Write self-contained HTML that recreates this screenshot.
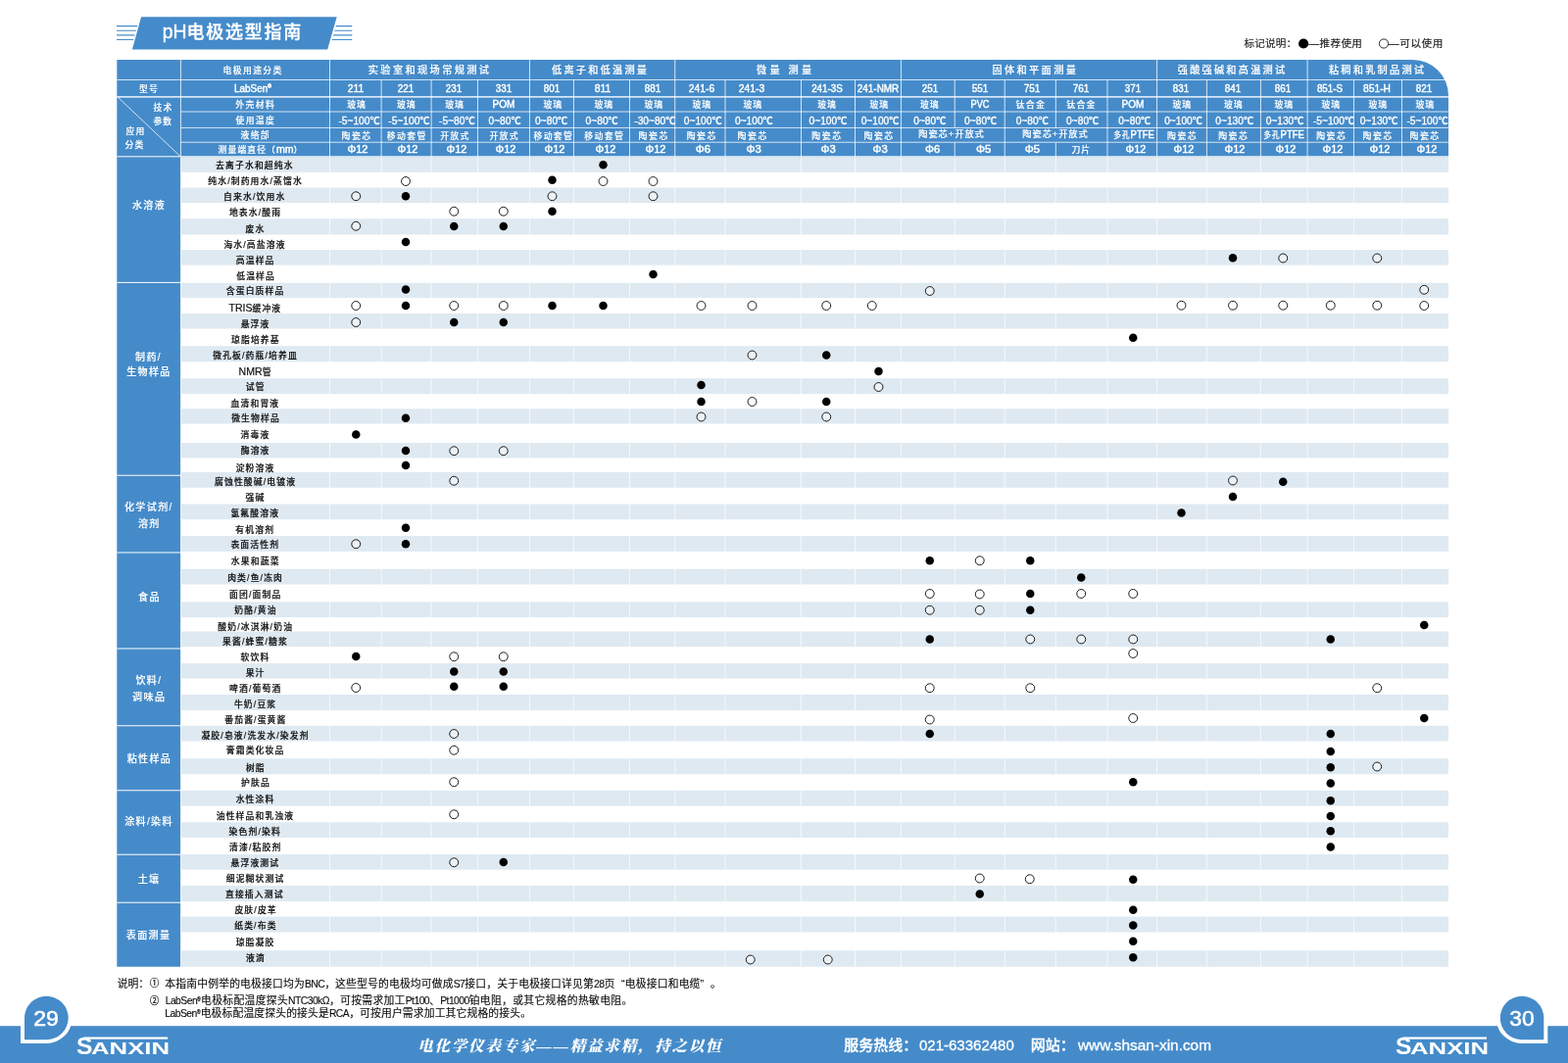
<!DOCTYPE html>
<html lang="zh-CN"><head><meta charset="utf-8">
<title>pH电极选型指南</title>
<style>
html,body{margin:0;padding:0;}
body{width:1600px;height:1085px;background:#fff;position:relative;overflow:hidden;
 font-family:"Liberation Sans", "Noto Sans CJK SC", sans-serif;color:#111;}
div{position:absolute;box-sizing:border-box;}
svg{position:absolute;left:0;top:0;}
.t{white-space:nowrap;height:14px;line-height:14px;}
.title{font-size:18px;color:#fff;font-weight:500;height:24px;line-height:24px;-webkit-text-stroke:.3px #fff;}
.title .la{font-size:1.08em;-webkit-text-stroke:.4px #fff;}
.leg{font-size:10.6px;color:#1a1a1a;-webkit-text-stroke:.15px #1a1a1a;}
.hg,.hh,.hm,.hvv,.hvt,.hvd,.cat{color:#fff;font-weight:500;-webkit-text-stroke:.15px #fff;}
.hm,.hvd,.hvv .la,.hh .la{-webkit-text-stroke:.45px #fff;}
.hvt{-webkit-text-stroke:.3px #fff;}
.hg{font-size:10.2px;letter-spacing:2.27px;}
.hh{font-size:8.8px;letter-spacing:1.1px;}
.hm{font-size:11.6px;}
.hvv{font-size:8.9px;letter-spacing:.9px;}
.hvt{font-size:10.2px;}
.hvd{font-size:11.3px;}
.cat{font-size:10px;letter-spacing:1.4px;}
.lab{font-size:8.8px;color:#111;font-weight:500;letter-spacing:1.15px;-webkit-text-stroke:.2px #111;}
.la{font-size:1.2em;letter-spacing:0;}
.note{font-size:10.8px;color:#0a0a0a;-webkit-text-stroke:.12px #0a0a0a;}
.cn{font-size:9.8px;color:#111;-webkit-text-stroke:.25px #111;}
.ln{letter-spacing:-.55px;font-size:.96em;}
.ql{padding-left:.62em;}
.qr{padding-right:.62em;}
.foot{font-size:15px;color:#fff;height:20px;line-height:20px;font-weight:500;-webkit-text-stroke:.3px #fff;}
.slogan{font-family:"Liberation Serif","Noto Serif CJK SC",serif;font-size:15.5px;font-weight:900;font-style:italic;color:#fff;letter-spacing:1.7px;height:20px;line-height:20px;}
.pg{font-size:21.5px;color:#fff;height:28px;line-height:28px;-webkit-text-stroke:.5px #fff;}
.logo{font-size:16.5px;font-weight:700;color:#fff;height:24px;line-height:24px;}
.logoS{font-size:23px;font-weight:700;color:#fff;height:28px;line-height:28px;}
.r{font-size:.5em;position:relative;top:-.62em;line-height:0;font-weight:700;letter-spacing:0;}
</style></head><body>
<svg width="1600" height="1085" viewBox="0 0 1600 1085">
<polygon points="144.1,17.2 343.7,17.2 334.2,50.5 134.9,50.5" fill="#458bca"/>
<polygon points="119,26.05 140.27,26.05 139.97,27.15 119,27.15" fill="#458bca"/>
<polygon points="342.77,26.05 359.3,26.05 359.3,27.15 342.47,27.15" fill="#458bca"/>
<polygon points="119,30.75 138.96,30.75 138.66,31.85 119,31.85" fill="#458bca"/>
<polygon points="341.46,30.75 359.3,30.75 359.3,31.85 341.16,31.85" fill="#458bca"/>
<polygon points="119,35.35 137.68,35.35 137.38,36.45 119,36.45" fill="#458bca"/>
<polygon points="340.18,35.35 359.3,35.35 359.3,36.45 339.88,36.45" fill="#458bca"/>
<polygon points="119,39.95 136.39,39.95 136.09,41.05 119,41.05" fill="#458bca"/>
<polygon points="338.89,39.95 359.3,39.95 359.3,41.05 338.59,41.05" fill="#458bca"/>
<circle cx="1330.1" cy="44.5" r="5.1" fill="#000"/>
<circle cx="1412" cy="44.5" r="4.6" fill="#fff" stroke="#111" stroke-width="0.9"/>
<path d="M119.3,61.0 H1441.5 A36.5,36.5 0 0 1 1478,97.5 V160.4 H119.3 Z" fill="#458bca"/>
<rect x="119.30" y="159.80" width="64.80" height="826.95" fill="#458bca"/>
<rect x="184.90" y="160.40" width="1293.10" height="15.40" fill="#dfe9f1"/>
<rect x="336.00" y="160.40" width="1.00" height="15.40" fill="#fff" fill-opacity="0.7"/>
<rect x="388.60" y="160.40" width="1.00" height="15.40" fill="#fff" fill-opacity="0.7"/>
<rect x="439.60" y="160.40" width="1.00" height="15.40" fill="#fff" fill-opacity="0.7"/>
<rect x="487.00" y="160.40" width="1.00" height="15.40" fill="#fff" fill-opacity="0.7"/>
<rect x="539.90" y="160.40" width="1.00" height="15.40" fill="#fff" fill-opacity="0.7"/>
<rect x="584.90" y="160.40" width="1.00" height="15.40" fill="#fff" fill-opacity="0.7"/>
<rect x="642.00" y="160.40" width="1.00" height="15.40" fill="#fff" fill-opacity="0.7"/>
<rect x="688.25" y="160.40" width="1.00" height="15.40" fill="#fff" fill-opacity="0.7"/>
<rect x="739.50" y="160.40" width="1.00" height="15.40" fill="#fff" fill-opacity="0.7"/>
<rect x="817.00" y="160.40" width="1.00" height="15.40" fill="#fff" fill-opacity="0.7"/>
<rect x="872.00" y="160.40" width="1.00" height="15.40" fill="#fff" fill-opacity="0.7"/>
<rect x="918.90" y="160.40" width="1.00" height="15.40" fill="#fff" fill-opacity="0.7"/>
<rect x="973.70" y="160.40" width="1.00" height="15.40" fill="#fff" fill-opacity="0.7"/>
<rect x="1024.70" y="160.40" width="1.00" height="15.40" fill="#fff" fill-opacity="0.7"/>
<rect x="1076.80" y="160.40" width="1.00" height="15.40" fill="#fff" fill-opacity="0.7"/>
<rect x="1129.50" y="160.40" width="1.00" height="15.40" fill="#fff" fill-opacity="0.7"/>
<rect x="1180.10" y="160.40" width="1.00" height="15.40" fill="#fff" fill-opacity="0.7"/>
<rect x="1230.90" y="160.40" width="1.00" height="15.40" fill="#fff" fill-opacity="0.7"/>
<rect x="1285.90" y="160.40" width="1.00" height="15.40" fill="#fff" fill-opacity="0.7"/>
<rect x="1333.60" y="160.40" width="1.00" height="15.40" fill="#fff" fill-opacity="0.7"/>
<rect x="1380.90" y="160.40" width="1.00" height="15.40" fill="#fff" fill-opacity="0.7"/>
<rect x="1429.90" y="160.40" width="1.00" height="15.40" fill="#fff" fill-opacity="0.7"/>
<rect x="184.90" y="191.50" width="1293.10" height="15.50" fill="#dfe9f1"/>
<rect x="336.00" y="191.50" width="1.00" height="15.50" fill="#fff" fill-opacity="0.7"/>
<rect x="388.60" y="191.50" width="1.00" height="15.50" fill="#fff" fill-opacity="0.7"/>
<rect x="439.60" y="191.50" width="1.00" height="15.50" fill="#fff" fill-opacity="0.7"/>
<rect x="487.00" y="191.50" width="1.00" height="15.50" fill="#fff" fill-opacity="0.7"/>
<rect x="539.90" y="191.50" width="1.00" height="15.50" fill="#fff" fill-opacity="0.7"/>
<rect x="584.90" y="191.50" width="1.00" height="15.50" fill="#fff" fill-opacity="0.7"/>
<rect x="642.00" y="191.50" width="1.00" height="15.50" fill="#fff" fill-opacity="0.7"/>
<rect x="688.25" y="191.50" width="1.00" height="15.50" fill="#fff" fill-opacity="0.7"/>
<rect x="739.50" y="191.50" width="1.00" height="15.50" fill="#fff" fill-opacity="0.7"/>
<rect x="817.00" y="191.50" width="1.00" height="15.50" fill="#fff" fill-opacity="0.7"/>
<rect x="872.00" y="191.50" width="1.00" height="15.50" fill="#fff" fill-opacity="0.7"/>
<rect x="918.90" y="191.50" width="1.00" height="15.50" fill="#fff" fill-opacity="0.7"/>
<rect x="973.70" y="191.50" width="1.00" height="15.50" fill="#fff" fill-opacity="0.7"/>
<rect x="1024.70" y="191.50" width="1.00" height="15.50" fill="#fff" fill-opacity="0.7"/>
<rect x="1076.80" y="191.50" width="1.00" height="15.50" fill="#fff" fill-opacity="0.7"/>
<rect x="1129.50" y="191.50" width="1.00" height="15.50" fill="#fff" fill-opacity="0.7"/>
<rect x="1180.10" y="191.50" width="1.00" height="15.50" fill="#fff" fill-opacity="0.7"/>
<rect x="1230.90" y="191.50" width="1.00" height="15.50" fill="#fff" fill-opacity="0.7"/>
<rect x="1285.90" y="191.50" width="1.00" height="15.50" fill="#fff" fill-opacity="0.7"/>
<rect x="1333.60" y="191.50" width="1.00" height="15.50" fill="#fff" fill-opacity="0.7"/>
<rect x="1380.90" y="191.50" width="1.00" height="15.50" fill="#fff" fill-opacity="0.7"/>
<rect x="1429.90" y="191.50" width="1.00" height="15.50" fill="#fff" fill-opacity="0.7"/>
<rect x="184.90" y="223.25" width="1293.10" height="16.25" fill="#dfe9f1"/>
<rect x="336.00" y="223.25" width="1.00" height="16.25" fill="#fff" fill-opacity="0.7"/>
<rect x="388.60" y="223.25" width="1.00" height="16.25" fill="#fff" fill-opacity="0.7"/>
<rect x="439.60" y="223.25" width="1.00" height="16.25" fill="#fff" fill-opacity="0.7"/>
<rect x="487.00" y="223.25" width="1.00" height="16.25" fill="#fff" fill-opacity="0.7"/>
<rect x="539.90" y="223.25" width="1.00" height="16.25" fill="#fff" fill-opacity="0.7"/>
<rect x="584.90" y="223.25" width="1.00" height="16.25" fill="#fff" fill-opacity="0.7"/>
<rect x="642.00" y="223.25" width="1.00" height="16.25" fill="#fff" fill-opacity="0.7"/>
<rect x="688.25" y="223.25" width="1.00" height="16.25" fill="#fff" fill-opacity="0.7"/>
<rect x="739.50" y="223.25" width="1.00" height="16.25" fill="#fff" fill-opacity="0.7"/>
<rect x="817.00" y="223.25" width="1.00" height="16.25" fill="#fff" fill-opacity="0.7"/>
<rect x="872.00" y="223.25" width="1.00" height="16.25" fill="#fff" fill-opacity="0.7"/>
<rect x="918.90" y="223.25" width="1.00" height="16.25" fill="#fff" fill-opacity="0.7"/>
<rect x="973.70" y="223.25" width="1.00" height="16.25" fill="#fff" fill-opacity="0.7"/>
<rect x="1024.70" y="223.25" width="1.00" height="16.25" fill="#fff" fill-opacity="0.7"/>
<rect x="1076.80" y="223.25" width="1.00" height="16.25" fill="#fff" fill-opacity="0.7"/>
<rect x="1129.50" y="223.25" width="1.00" height="16.25" fill="#fff" fill-opacity="0.7"/>
<rect x="1180.10" y="223.25" width="1.00" height="16.25" fill="#fff" fill-opacity="0.7"/>
<rect x="1230.90" y="223.25" width="1.00" height="16.25" fill="#fff" fill-opacity="0.7"/>
<rect x="1285.90" y="223.25" width="1.00" height="16.25" fill="#fff" fill-opacity="0.7"/>
<rect x="1333.60" y="223.25" width="1.00" height="16.25" fill="#fff" fill-opacity="0.7"/>
<rect x="1380.90" y="223.25" width="1.00" height="16.25" fill="#fff" fill-opacity="0.7"/>
<rect x="1429.90" y="223.25" width="1.00" height="16.25" fill="#fff" fill-opacity="0.7"/>
<rect x="184.90" y="255.00" width="1293.10" height="15.60" fill="#dfe9f1"/>
<rect x="336.00" y="255.00" width="1.00" height="15.60" fill="#fff" fill-opacity="0.7"/>
<rect x="388.60" y="255.00" width="1.00" height="15.60" fill="#fff" fill-opacity="0.7"/>
<rect x="439.60" y="255.00" width="1.00" height="15.60" fill="#fff" fill-opacity="0.7"/>
<rect x="487.00" y="255.00" width="1.00" height="15.60" fill="#fff" fill-opacity="0.7"/>
<rect x="539.90" y="255.00" width="1.00" height="15.60" fill="#fff" fill-opacity="0.7"/>
<rect x="584.90" y="255.00" width="1.00" height="15.60" fill="#fff" fill-opacity="0.7"/>
<rect x="642.00" y="255.00" width="1.00" height="15.60" fill="#fff" fill-opacity="0.7"/>
<rect x="688.25" y="255.00" width="1.00" height="15.60" fill="#fff" fill-opacity="0.7"/>
<rect x="739.50" y="255.00" width="1.00" height="15.60" fill="#fff" fill-opacity="0.7"/>
<rect x="817.00" y="255.00" width="1.00" height="15.60" fill="#fff" fill-opacity="0.7"/>
<rect x="872.00" y="255.00" width="1.00" height="15.60" fill="#fff" fill-opacity="0.7"/>
<rect x="918.90" y="255.00" width="1.00" height="15.60" fill="#fff" fill-opacity="0.7"/>
<rect x="973.70" y="255.00" width="1.00" height="15.60" fill="#fff" fill-opacity="0.7"/>
<rect x="1024.70" y="255.00" width="1.00" height="15.60" fill="#fff" fill-opacity="0.7"/>
<rect x="1076.80" y="255.00" width="1.00" height="15.60" fill="#fff" fill-opacity="0.7"/>
<rect x="1129.50" y="255.00" width="1.00" height="15.60" fill="#fff" fill-opacity="0.7"/>
<rect x="1180.10" y="255.00" width="1.00" height="15.60" fill="#fff" fill-opacity="0.7"/>
<rect x="1230.90" y="255.00" width="1.00" height="15.60" fill="#fff" fill-opacity="0.7"/>
<rect x="1285.90" y="255.00" width="1.00" height="15.60" fill="#fff" fill-opacity="0.7"/>
<rect x="1333.60" y="255.00" width="1.00" height="15.60" fill="#fff" fill-opacity="0.7"/>
<rect x="1380.90" y="255.00" width="1.00" height="15.60" fill="#fff" fill-opacity="0.7"/>
<rect x="1429.90" y="255.00" width="1.00" height="15.60" fill="#fff" fill-opacity="0.7"/>
<rect x="184.90" y="288.75" width="1293.10" height="15.35" fill="#dfe9f1"/>
<rect x="336.00" y="288.75" width="1.00" height="15.35" fill="#fff" fill-opacity="0.7"/>
<rect x="388.60" y="288.75" width="1.00" height="15.35" fill="#fff" fill-opacity="0.7"/>
<rect x="439.60" y="288.75" width="1.00" height="15.35" fill="#fff" fill-opacity="0.7"/>
<rect x="487.00" y="288.75" width="1.00" height="15.35" fill="#fff" fill-opacity="0.7"/>
<rect x="539.90" y="288.75" width="1.00" height="15.35" fill="#fff" fill-opacity="0.7"/>
<rect x="584.90" y="288.75" width="1.00" height="15.35" fill="#fff" fill-opacity="0.7"/>
<rect x="642.00" y="288.75" width="1.00" height="15.35" fill="#fff" fill-opacity="0.7"/>
<rect x="688.25" y="288.75" width="1.00" height="15.35" fill="#fff" fill-opacity="0.7"/>
<rect x="739.50" y="288.75" width="1.00" height="15.35" fill="#fff" fill-opacity="0.7"/>
<rect x="817.00" y="288.75" width="1.00" height="15.35" fill="#fff" fill-opacity="0.7"/>
<rect x="872.00" y="288.75" width="1.00" height="15.35" fill="#fff" fill-opacity="0.7"/>
<rect x="918.90" y="288.75" width="1.00" height="15.35" fill="#fff" fill-opacity="0.7"/>
<rect x="973.70" y="288.75" width="1.00" height="15.35" fill="#fff" fill-opacity="0.7"/>
<rect x="1024.70" y="288.75" width="1.00" height="15.35" fill="#fff" fill-opacity="0.7"/>
<rect x="1076.80" y="288.75" width="1.00" height="15.35" fill="#fff" fill-opacity="0.7"/>
<rect x="1129.50" y="288.75" width="1.00" height="15.35" fill="#fff" fill-opacity="0.7"/>
<rect x="1180.10" y="288.75" width="1.00" height="15.35" fill="#fff" fill-opacity="0.7"/>
<rect x="1230.90" y="288.75" width="1.00" height="15.35" fill="#fff" fill-opacity="0.7"/>
<rect x="1285.90" y="288.75" width="1.00" height="15.35" fill="#fff" fill-opacity="0.7"/>
<rect x="1333.60" y="288.75" width="1.00" height="15.35" fill="#fff" fill-opacity="0.7"/>
<rect x="1380.90" y="288.75" width="1.00" height="15.35" fill="#fff" fill-opacity="0.7"/>
<rect x="1429.90" y="288.75" width="1.00" height="15.35" fill="#fff" fill-opacity="0.7"/>
<rect x="184.90" y="320.00" width="1293.10" height="15.50" fill="#dfe9f1"/>
<rect x="336.00" y="320.00" width="1.00" height="15.50" fill="#fff" fill-opacity="0.7"/>
<rect x="388.60" y="320.00" width="1.00" height="15.50" fill="#fff" fill-opacity="0.7"/>
<rect x="439.60" y="320.00" width="1.00" height="15.50" fill="#fff" fill-opacity="0.7"/>
<rect x="487.00" y="320.00" width="1.00" height="15.50" fill="#fff" fill-opacity="0.7"/>
<rect x="539.90" y="320.00" width="1.00" height="15.50" fill="#fff" fill-opacity="0.7"/>
<rect x="584.90" y="320.00" width="1.00" height="15.50" fill="#fff" fill-opacity="0.7"/>
<rect x="642.00" y="320.00" width="1.00" height="15.50" fill="#fff" fill-opacity="0.7"/>
<rect x="688.25" y="320.00" width="1.00" height="15.50" fill="#fff" fill-opacity="0.7"/>
<rect x="739.50" y="320.00" width="1.00" height="15.50" fill="#fff" fill-opacity="0.7"/>
<rect x="817.00" y="320.00" width="1.00" height="15.50" fill="#fff" fill-opacity="0.7"/>
<rect x="872.00" y="320.00" width="1.00" height="15.50" fill="#fff" fill-opacity="0.7"/>
<rect x="918.90" y="320.00" width="1.00" height="15.50" fill="#fff" fill-opacity="0.7"/>
<rect x="973.70" y="320.00" width="1.00" height="15.50" fill="#fff" fill-opacity="0.7"/>
<rect x="1024.70" y="320.00" width="1.00" height="15.50" fill="#fff" fill-opacity="0.7"/>
<rect x="1076.80" y="320.00" width="1.00" height="15.50" fill="#fff" fill-opacity="0.7"/>
<rect x="1129.50" y="320.00" width="1.00" height="15.50" fill="#fff" fill-opacity="0.7"/>
<rect x="1180.10" y="320.00" width="1.00" height="15.50" fill="#fff" fill-opacity="0.7"/>
<rect x="1230.90" y="320.00" width="1.00" height="15.50" fill="#fff" fill-opacity="0.7"/>
<rect x="1285.90" y="320.00" width="1.00" height="15.50" fill="#fff" fill-opacity="0.7"/>
<rect x="1333.60" y="320.00" width="1.00" height="15.50" fill="#fff" fill-opacity="0.7"/>
<rect x="1380.90" y="320.00" width="1.00" height="15.50" fill="#fff" fill-opacity="0.7"/>
<rect x="1429.90" y="320.00" width="1.00" height="15.50" fill="#fff" fill-opacity="0.7"/>
<rect x="184.90" y="353.25" width="1293.10" height="16.00" fill="#dfe9f1"/>
<rect x="336.00" y="353.25" width="1.00" height="16.00" fill="#fff" fill-opacity="0.7"/>
<rect x="388.60" y="353.25" width="1.00" height="16.00" fill="#fff" fill-opacity="0.7"/>
<rect x="439.60" y="353.25" width="1.00" height="16.00" fill="#fff" fill-opacity="0.7"/>
<rect x="487.00" y="353.25" width="1.00" height="16.00" fill="#fff" fill-opacity="0.7"/>
<rect x="539.90" y="353.25" width="1.00" height="16.00" fill="#fff" fill-opacity="0.7"/>
<rect x="584.90" y="353.25" width="1.00" height="16.00" fill="#fff" fill-opacity="0.7"/>
<rect x="642.00" y="353.25" width="1.00" height="16.00" fill="#fff" fill-opacity="0.7"/>
<rect x="688.25" y="353.25" width="1.00" height="16.00" fill="#fff" fill-opacity="0.7"/>
<rect x="739.50" y="353.25" width="1.00" height="16.00" fill="#fff" fill-opacity="0.7"/>
<rect x="817.00" y="353.25" width="1.00" height="16.00" fill="#fff" fill-opacity="0.7"/>
<rect x="872.00" y="353.25" width="1.00" height="16.00" fill="#fff" fill-opacity="0.7"/>
<rect x="918.90" y="353.25" width="1.00" height="16.00" fill="#fff" fill-opacity="0.7"/>
<rect x="973.70" y="353.25" width="1.00" height="16.00" fill="#fff" fill-opacity="0.7"/>
<rect x="1024.70" y="353.25" width="1.00" height="16.00" fill="#fff" fill-opacity="0.7"/>
<rect x="1076.80" y="353.25" width="1.00" height="16.00" fill="#fff" fill-opacity="0.7"/>
<rect x="1129.50" y="353.25" width="1.00" height="16.00" fill="#fff" fill-opacity="0.7"/>
<rect x="1180.10" y="353.25" width="1.00" height="16.00" fill="#fff" fill-opacity="0.7"/>
<rect x="1230.90" y="353.25" width="1.00" height="16.00" fill="#fff" fill-opacity="0.7"/>
<rect x="1285.90" y="353.25" width="1.00" height="16.00" fill="#fff" fill-opacity="0.7"/>
<rect x="1333.60" y="353.25" width="1.00" height="16.00" fill="#fff" fill-opacity="0.7"/>
<rect x="1380.90" y="353.25" width="1.00" height="16.00" fill="#fff" fill-opacity="0.7"/>
<rect x="1429.90" y="353.25" width="1.00" height="16.00" fill="#fff" fill-opacity="0.7"/>
<rect x="184.90" y="386.25" width="1293.10" height="15.75" fill="#dfe9f1"/>
<rect x="336.00" y="386.25" width="1.00" height="15.75" fill="#fff" fill-opacity="0.7"/>
<rect x="388.60" y="386.25" width="1.00" height="15.75" fill="#fff" fill-opacity="0.7"/>
<rect x="439.60" y="386.25" width="1.00" height="15.75" fill="#fff" fill-opacity="0.7"/>
<rect x="487.00" y="386.25" width="1.00" height="15.75" fill="#fff" fill-opacity="0.7"/>
<rect x="539.90" y="386.25" width="1.00" height="15.75" fill="#fff" fill-opacity="0.7"/>
<rect x="584.90" y="386.25" width="1.00" height="15.75" fill="#fff" fill-opacity="0.7"/>
<rect x="642.00" y="386.25" width="1.00" height="15.75" fill="#fff" fill-opacity="0.7"/>
<rect x="688.25" y="386.25" width="1.00" height="15.75" fill="#fff" fill-opacity="0.7"/>
<rect x="739.50" y="386.25" width="1.00" height="15.75" fill="#fff" fill-opacity="0.7"/>
<rect x="817.00" y="386.25" width="1.00" height="15.75" fill="#fff" fill-opacity="0.7"/>
<rect x="872.00" y="386.25" width="1.00" height="15.75" fill="#fff" fill-opacity="0.7"/>
<rect x="918.90" y="386.25" width="1.00" height="15.75" fill="#fff" fill-opacity="0.7"/>
<rect x="973.70" y="386.25" width="1.00" height="15.75" fill="#fff" fill-opacity="0.7"/>
<rect x="1024.70" y="386.25" width="1.00" height="15.75" fill="#fff" fill-opacity="0.7"/>
<rect x="1076.80" y="386.25" width="1.00" height="15.75" fill="#fff" fill-opacity="0.7"/>
<rect x="1129.50" y="386.25" width="1.00" height="15.75" fill="#fff" fill-opacity="0.7"/>
<rect x="1180.10" y="386.25" width="1.00" height="15.75" fill="#fff" fill-opacity="0.7"/>
<rect x="1230.90" y="386.25" width="1.00" height="15.75" fill="#fff" fill-opacity="0.7"/>
<rect x="1285.90" y="386.25" width="1.00" height="15.75" fill="#fff" fill-opacity="0.7"/>
<rect x="1333.60" y="386.25" width="1.00" height="15.75" fill="#fff" fill-opacity="0.7"/>
<rect x="1380.90" y="386.25" width="1.00" height="15.75" fill="#fff" fill-opacity="0.7"/>
<rect x="1429.90" y="386.25" width="1.00" height="15.75" fill="#fff" fill-opacity="0.7"/>
<rect x="184.90" y="417.25" width="1293.10" height="15.25" fill="#dfe9f1"/>
<rect x="336.00" y="417.25" width="1.00" height="15.25" fill="#fff" fill-opacity="0.7"/>
<rect x="388.60" y="417.25" width="1.00" height="15.25" fill="#fff" fill-opacity="0.7"/>
<rect x="439.60" y="417.25" width="1.00" height="15.25" fill="#fff" fill-opacity="0.7"/>
<rect x="487.00" y="417.25" width="1.00" height="15.25" fill="#fff" fill-opacity="0.7"/>
<rect x="539.90" y="417.25" width="1.00" height="15.25" fill="#fff" fill-opacity="0.7"/>
<rect x="584.90" y="417.25" width="1.00" height="15.25" fill="#fff" fill-opacity="0.7"/>
<rect x="642.00" y="417.25" width="1.00" height="15.25" fill="#fff" fill-opacity="0.7"/>
<rect x="688.25" y="417.25" width="1.00" height="15.25" fill="#fff" fill-opacity="0.7"/>
<rect x="739.50" y="417.25" width="1.00" height="15.25" fill="#fff" fill-opacity="0.7"/>
<rect x="817.00" y="417.25" width="1.00" height="15.25" fill="#fff" fill-opacity="0.7"/>
<rect x="872.00" y="417.25" width="1.00" height="15.25" fill="#fff" fill-opacity="0.7"/>
<rect x="918.90" y="417.25" width="1.00" height="15.25" fill="#fff" fill-opacity="0.7"/>
<rect x="973.70" y="417.25" width="1.00" height="15.25" fill="#fff" fill-opacity="0.7"/>
<rect x="1024.70" y="417.25" width="1.00" height="15.25" fill="#fff" fill-opacity="0.7"/>
<rect x="1076.80" y="417.25" width="1.00" height="15.25" fill="#fff" fill-opacity="0.7"/>
<rect x="1129.50" y="417.25" width="1.00" height="15.25" fill="#fff" fill-opacity="0.7"/>
<rect x="1180.10" y="417.25" width="1.00" height="15.25" fill="#fff" fill-opacity="0.7"/>
<rect x="1230.90" y="417.25" width="1.00" height="15.25" fill="#fff" fill-opacity="0.7"/>
<rect x="1285.90" y="417.25" width="1.00" height="15.25" fill="#fff" fill-opacity="0.7"/>
<rect x="1333.60" y="417.25" width="1.00" height="15.25" fill="#fff" fill-opacity="0.7"/>
<rect x="1380.90" y="417.25" width="1.00" height="15.25" fill="#fff" fill-opacity="0.7"/>
<rect x="1429.90" y="417.25" width="1.00" height="15.25" fill="#fff" fill-opacity="0.7"/>
<rect x="184.90" y="452.00" width="1293.10" height="15.50" fill="#dfe9f1"/>
<rect x="336.00" y="452.00" width="1.00" height="15.50" fill="#fff" fill-opacity="0.7"/>
<rect x="388.60" y="452.00" width="1.00" height="15.50" fill="#fff" fill-opacity="0.7"/>
<rect x="439.60" y="452.00" width="1.00" height="15.50" fill="#fff" fill-opacity="0.7"/>
<rect x="487.00" y="452.00" width="1.00" height="15.50" fill="#fff" fill-opacity="0.7"/>
<rect x="539.90" y="452.00" width="1.00" height="15.50" fill="#fff" fill-opacity="0.7"/>
<rect x="584.90" y="452.00" width="1.00" height="15.50" fill="#fff" fill-opacity="0.7"/>
<rect x="642.00" y="452.00" width="1.00" height="15.50" fill="#fff" fill-opacity="0.7"/>
<rect x="688.25" y="452.00" width="1.00" height="15.50" fill="#fff" fill-opacity="0.7"/>
<rect x="739.50" y="452.00" width="1.00" height="15.50" fill="#fff" fill-opacity="0.7"/>
<rect x="817.00" y="452.00" width="1.00" height="15.50" fill="#fff" fill-opacity="0.7"/>
<rect x="872.00" y="452.00" width="1.00" height="15.50" fill="#fff" fill-opacity="0.7"/>
<rect x="918.90" y="452.00" width="1.00" height="15.50" fill="#fff" fill-opacity="0.7"/>
<rect x="973.70" y="452.00" width="1.00" height="15.50" fill="#fff" fill-opacity="0.7"/>
<rect x="1024.70" y="452.00" width="1.00" height="15.50" fill="#fff" fill-opacity="0.7"/>
<rect x="1076.80" y="452.00" width="1.00" height="15.50" fill="#fff" fill-opacity="0.7"/>
<rect x="1129.50" y="452.00" width="1.00" height="15.50" fill="#fff" fill-opacity="0.7"/>
<rect x="1180.10" y="452.00" width="1.00" height="15.50" fill="#fff" fill-opacity="0.7"/>
<rect x="1230.90" y="452.00" width="1.00" height="15.50" fill="#fff" fill-opacity="0.7"/>
<rect x="1285.90" y="452.00" width="1.00" height="15.50" fill="#fff" fill-opacity="0.7"/>
<rect x="1333.60" y="452.00" width="1.00" height="15.50" fill="#fff" fill-opacity="0.7"/>
<rect x="1380.90" y="452.00" width="1.00" height="15.50" fill="#fff" fill-opacity="0.7"/>
<rect x="1429.90" y="452.00" width="1.00" height="15.50" fill="#fff" fill-opacity="0.7"/>
<rect x="184.90" y="482.00" width="1293.10" height="15.75" fill="#dfe9f1"/>
<rect x="336.00" y="482.00" width="1.00" height="15.75" fill="#fff" fill-opacity="0.7"/>
<rect x="388.60" y="482.00" width="1.00" height="15.75" fill="#fff" fill-opacity="0.7"/>
<rect x="439.60" y="482.00" width="1.00" height="15.75" fill="#fff" fill-opacity="0.7"/>
<rect x="487.00" y="482.00" width="1.00" height="15.75" fill="#fff" fill-opacity="0.7"/>
<rect x="539.90" y="482.00" width="1.00" height="15.75" fill="#fff" fill-opacity="0.7"/>
<rect x="584.90" y="482.00" width="1.00" height="15.75" fill="#fff" fill-opacity="0.7"/>
<rect x="642.00" y="482.00" width="1.00" height="15.75" fill="#fff" fill-opacity="0.7"/>
<rect x="688.25" y="482.00" width="1.00" height="15.75" fill="#fff" fill-opacity="0.7"/>
<rect x="739.50" y="482.00" width="1.00" height="15.75" fill="#fff" fill-opacity="0.7"/>
<rect x="817.00" y="482.00" width="1.00" height="15.75" fill="#fff" fill-opacity="0.7"/>
<rect x="872.00" y="482.00" width="1.00" height="15.75" fill="#fff" fill-opacity="0.7"/>
<rect x="918.90" y="482.00" width="1.00" height="15.75" fill="#fff" fill-opacity="0.7"/>
<rect x="973.70" y="482.00" width="1.00" height="15.75" fill="#fff" fill-opacity="0.7"/>
<rect x="1024.70" y="482.00" width="1.00" height="15.75" fill="#fff" fill-opacity="0.7"/>
<rect x="1076.80" y="482.00" width="1.00" height="15.75" fill="#fff" fill-opacity="0.7"/>
<rect x="1129.50" y="482.00" width="1.00" height="15.75" fill="#fff" fill-opacity="0.7"/>
<rect x="1180.10" y="482.00" width="1.00" height="15.75" fill="#fff" fill-opacity="0.7"/>
<rect x="1230.90" y="482.00" width="1.00" height="15.75" fill="#fff" fill-opacity="0.7"/>
<rect x="1285.90" y="482.00" width="1.00" height="15.75" fill="#fff" fill-opacity="0.7"/>
<rect x="1333.60" y="482.00" width="1.00" height="15.75" fill="#fff" fill-opacity="0.7"/>
<rect x="1380.90" y="482.00" width="1.00" height="15.75" fill="#fff" fill-opacity="0.7"/>
<rect x="1429.90" y="482.00" width="1.00" height="15.75" fill="#fff" fill-opacity="0.7"/>
<rect x="184.90" y="514.50" width="1293.10" height="15.75" fill="#dfe9f1"/>
<rect x="336.00" y="514.50" width="1.00" height="15.75" fill="#fff" fill-opacity="0.7"/>
<rect x="388.60" y="514.50" width="1.00" height="15.75" fill="#fff" fill-opacity="0.7"/>
<rect x="439.60" y="514.50" width="1.00" height="15.75" fill="#fff" fill-opacity="0.7"/>
<rect x="487.00" y="514.50" width="1.00" height="15.75" fill="#fff" fill-opacity="0.7"/>
<rect x="539.90" y="514.50" width="1.00" height="15.75" fill="#fff" fill-opacity="0.7"/>
<rect x="584.90" y="514.50" width="1.00" height="15.75" fill="#fff" fill-opacity="0.7"/>
<rect x="642.00" y="514.50" width="1.00" height="15.75" fill="#fff" fill-opacity="0.7"/>
<rect x="688.25" y="514.50" width="1.00" height="15.75" fill="#fff" fill-opacity="0.7"/>
<rect x="739.50" y="514.50" width="1.00" height="15.75" fill="#fff" fill-opacity="0.7"/>
<rect x="817.00" y="514.50" width="1.00" height="15.75" fill="#fff" fill-opacity="0.7"/>
<rect x="872.00" y="514.50" width="1.00" height="15.75" fill="#fff" fill-opacity="0.7"/>
<rect x="918.90" y="514.50" width="1.00" height="15.75" fill="#fff" fill-opacity="0.7"/>
<rect x="973.70" y="514.50" width="1.00" height="15.75" fill="#fff" fill-opacity="0.7"/>
<rect x="1024.70" y="514.50" width="1.00" height="15.75" fill="#fff" fill-opacity="0.7"/>
<rect x="1076.80" y="514.50" width="1.00" height="15.75" fill="#fff" fill-opacity="0.7"/>
<rect x="1129.50" y="514.50" width="1.00" height="15.75" fill="#fff" fill-opacity="0.7"/>
<rect x="1180.10" y="514.50" width="1.00" height="15.75" fill="#fff" fill-opacity="0.7"/>
<rect x="1230.90" y="514.50" width="1.00" height="15.75" fill="#fff" fill-opacity="0.7"/>
<rect x="1285.90" y="514.50" width="1.00" height="15.75" fill="#fff" fill-opacity="0.7"/>
<rect x="1333.60" y="514.50" width="1.00" height="15.75" fill="#fff" fill-opacity="0.7"/>
<rect x="1380.90" y="514.50" width="1.00" height="15.75" fill="#fff" fill-opacity="0.7"/>
<rect x="1429.90" y="514.50" width="1.00" height="15.75" fill="#fff" fill-opacity="0.7"/>
<rect x="184.90" y="547.10" width="1293.10" height="15.80" fill="#dfe9f1"/>
<rect x="336.00" y="547.10" width="1.00" height="15.80" fill="#fff" fill-opacity="0.7"/>
<rect x="388.60" y="547.10" width="1.00" height="15.80" fill="#fff" fill-opacity="0.7"/>
<rect x="439.60" y="547.10" width="1.00" height="15.80" fill="#fff" fill-opacity="0.7"/>
<rect x="487.00" y="547.10" width="1.00" height="15.80" fill="#fff" fill-opacity="0.7"/>
<rect x="539.90" y="547.10" width="1.00" height="15.80" fill="#fff" fill-opacity="0.7"/>
<rect x="584.90" y="547.10" width="1.00" height="15.80" fill="#fff" fill-opacity="0.7"/>
<rect x="642.00" y="547.10" width="1.00" height="15.80" fill="#fff" fill-opacity="0.7"/>
<rect x="688.25" y="547.10" width="1.00" height="15.80" fill="#fff" fill-opacity="0.7"/>
<rect x="739.50" y="547.10" width="1.00" height="15.80" fill="#fff" fill-opacity="0.7"/>
<rect x="817.00" y="547.10" width="1.00" height="15.80" fill="#fff" fill-opacity="0.7"/>
<rect x="872.00" y="547.10" width="1.00" height="15.80" fill="#fff" fill-opacity="0.7"/>
<rect x="918.90" y="547.10" width="1.00" height="15.80" fill="#fff" fill-opacity="0.7"/>
<rect x="973.70" y="547.10" width="1.00" height="15.80" fill="#fff" fill-opacity="0.7"/>
<rect x="1024.70" y="547.10" width="1.00" height="15.80" fill="#fff" fill-opacity="0.7"/>
<rect x="1076.80" y="547.10" width="1.00" height="15.80" fill="#fff" fill-opacity="0.7"/>
<rect x="1129.50" y="547.10" width="1.00" height="15.80" fill="#fff" fill-opacity="0.7"/>
<rect x="1180.10" y="547.10" width="1.00" height="15.80" fill="#fff" fill-opacity="0.7"/>
<rect x="1230.90" y="547.10" width="1.00" height="15.80" fill="#fff" fill-opacity="0.7"/>
<rect x="1285.90" y="547.10" width="1.00" height="15.80" fill="#fff" fill-opacity="0.7"/>
<rect x="1333.60" y="547.10" width="1.00" height="15.80" fill="#fff" fill-opacity="0.7"/>
<rect x="1380.90" y="547.10" width="1.00" height="15.80" fill="#fff" fill-opacity="0.7"/>
<rect x="1429.90" y="547.10" width="1.00" height="15.80" fill="#fff" fill-opacity="0.7"/>
<rect x="184.90" y="580.75" width="1293.10" height="15.75" fill="#dfe9f1"/>
<rect x="336.00" y="580.75" width="1.00" height="15.75" fill="#fff" fill-opacity="0.7"/>
<rect x="388.60" y="580.75" width="1.00" height="15.75" fill="#fff" fill-opacity="0.7"/>
<rect x="439.60" y="580.75" width="1.00" height="15.75" fill="#fff" fill-opacity="0.7"/>
<rect x="487.00" y="580.75" width="1.00" height="15.75" fill="#fff" fill-opacity="0.7"/>
<rect x="539.90" y="580.75" width="1.00" height="15.75" fill="#fff" fill-opacity="0.7"/>
<rect x="584.90" y="580.75" width="1.00" height="15.75" fill="#fff" fill-opacity="0.7"/>
<rect x="642.00" y="580.75" width="1.00" height="15.75" fill="#fff" fill-opacity="0.7"/>
<rect x="688.25" y="580.75" width="1.00" height="15.75" fill="#fff" fill-opacity="0.7"/>
<rect x="739.50" y="580.75" width="1.00" height="15.75" fill="#fff" fill-opacity="0.7"/>
<rect x="817.00" y="580.75" width="1.00" height="15.75" fill="#fff" fill-opacity="0.7"/>
<rect x="872.00" y="580.75" width="1.00" height="15.75" fill="#fff" fill-opacity="0.7"/>
<rect x="918.90" y="580.75" width="1.00" height="15.75" fill="#fff" fill-opacity="0.7"/>
<rect x="973.70" y="580.75" width="1.00" height="15.75" fill="#fff" fill-opacity="0.7"/>
<rect x="1024.70" y="580.75" width="1.00" height="15.75" fill="#fff" fill-opacity="0.7"/>
<rect x="1076.80" y="580.75" width="1.00" height="15.75" fill="#fff" fill-opacity="0.7"/>
<rect x="1129.50" y="580.75" width="1.00" height="15.75" fill="#fff" fill-opacity="0.7"/>
<rect x="1180.10" y="580.75" width="1.00" height="15.75" fill="#fff" fill-opacity="0.7"/>
<rect x="1230.90" y="580.75" width="1.00" height="15.75" fill="#fff" fill-opacity="0.7"/>
<rect x="1285.90" y="580.75" width="1.00" height="15.75" fill="#fff" fill-opacity="0.7"/>
<rect x="1333.60" y="580.75" width="1.00" height="15.75" fill="#fff" fill-opacity="0.7"/>
<rect x="1380.90" y="580.75" width="1.00" height="15.75" fill="#fff" fill-opacity="0.7"/>
<rect x="1429.90" y="580.75" width="1.00" height="15.75" fill="#fff" fill-opacity="0.7"/>
<rect x="184.90" y="614.40" width="1293.10" height="15.70" fill="#dfe9f1"/>
<rect x="336.00" y="614.40" width="1.00" height="15.70" fill="#fff" fill-opacity="0.7"/>
<rect x="388.60" y="614.40" width="1.00" height="15.70" fill="#fff" fill-opacity="0.7"/>
<rect x="439.60" y="614.40" width="1.00" height="15.70" fill="#fff" fill-opacity="0.7"/>
<rect x="487.00" y="614.40" width="1.00" height="15.70" fill="#fff" fill-opacity="0.7"/>
<rect x="539.90" y="614.40" width="1.00" height="15.70" fill="#fff" fill-opacity="0.7"/>
<rect x="584.90" y="614.40" width="1.00" height="15.70" fill="#fff" fill-opacity="0.7"/>
<rect x="642.00" y="614.40" width="1.00" height="15.70" fill="#fff" fill-opacity="0.7"/>
<rect x="688.25" y="614.40" width="1.00" height="15.70" fill="#fff" fill-opacity="0.7"/>
<rect x="739.50" y="614.40" width="1.00" height="15.70" fill="#fff" fill-opacity="0.7"/>
<rect x="817.00" y="614.40" width="1.00" height="15.70" fill="#fff" fill-opacity="0.7"/>
<rect x="872.00" y="614.40" width="1.00" height="15.70" fill="#fff" fill-opacity="0.7"/>
<rect x="918.90" y="614.40" width="1.00" height="15.70" fill="#fff" fill-opacity="0.7"/>
<rect x="973.70" y="614.40" width="1.00" height="15.70" fill="#fff" fill-opacity="0.7"/>
<rect x="1024.70" y="614.40" width="1.00" height="15.70" fill="#fff" fill-opacity="0.7"/>
<rect x="1076.80" y="614.40" width="1.00" height="15.70" fill="#fff" fill-opacity="0.7"/>
<rect x="1129.50" y="614.40" width="1.00" height="15.70" fill="#fff" fill-opacity="0.7"/>
<rect x="1180.10" y="614.40" width="1.00" height="15.70" fill="#fff" fill-opacity="0.7"/>
<rect x="1230.90" y="614.40" width="1.00" height="15.70" fill="#fff" fill-opacity="0.7"/>
<rect x="1285.90" y="614.40" width="1.00" height="15.70" fill="#fff" fill-opacity="0.7"/>
<rect x="1333.60" y="614.40" width="1.00" height="15.70" fill="#fff" fill-opacity="0.7"/>
<rect x="1380.90" y="614.40" width="1.00" height="15.70" fill="#fff" fill-opacity="0.7"/>
<rect x="1429.90" y="614.40" width="1.00" height="15.70" fill="#fff" fill-opacity="0.7"/>
<rect x="184.90" y="644.50" width="1293.10" height="15.70" fill="#dfe9f1"/>
<rect x="336.00" y="644.50" width="1.00" height="15.70" fill="#fff" fill-opacity="0.7"/>
<rect x="388.60" y="644.50" width="1.00" height="15.70" fill="#fff" fill-opacity="0.7"/>
<rect x="439.60" y="644.50" width="1.00" height="15.70" fill="#fff" fill-opacity="0.7"/>
<rect x="487.00" y="644.50" width="1.00" height="15.70" fill="#fff" fill-opacity="0.7"/>
<rect x="539.90" y="644.50" width="1.00" height="15.70" fill="#fff" fill-opacity="0.7"/>
<rect x="584.90" y="644.50" width="1.00" height="15.70" fill="#fff" fill-opacity="0.7"/>
<rect x="642.00" y="644.50" width="1.00" height="15.70" fill="#fff" fill-opacity="0.7"/>
<rect x="688.25" y="644.50" width="1.00" height="15.70" fill="#fff" fill-opacity="0.7"/>
<rect x="739.50" y="644.50" width="1.00" height="15.70" fill="#fff" fill-opacity="0.7"/>
<rect x="817.00" y="644.50" width="1.00" height="15.70" fill="#fff" fill-opacity="0.7"/>
<rect x="872.00" y="644.50" width="1.00" height="15.70" fill="#fff" fill-opacity="0.7"/>
<rect x="918.90" y="644.50" width="1.00" height="15.70" fill="#fff" fill-opacity="0.7"/>
<rect x="973.70" y="644.50" width="1.00" height="15.70" fill="#fff" fill-opacity="0.7"/>
<rect x="1024.70" y="644.50" width="1.00" height="15.70" fill="#fff" fill-opacity="0.7"/>
<rect x="1076.80" y="644.50" width="1.00" height="15.70" fill="#fff" fill-opacity="0.7"/>
<rect x="1129.50" y="644.50" width="1.00" height="15.70" fill="#fff" fill-opacity="0.7"/>
<rect x="1180.10" y="644.50" width="1.00" height="15.70" fill="#fff" fill-opacity="0.7"/>
<rect x="1230.90" y="644.50" width="1.00" height="15.70" fill="#fff" fill-opacity="0.7"/>
<rect x="1285.90" y="644.50" width="1.00" height="15.70" fill="#fff" fill-opacity="0.7"/>
<rect x="1333.60" y="644.50" width="1.00" height="15.70" fill="#fff" fill-opacity="0.7"/>
<rect x="1380.90" y="644.50" width="1.00" height="15.70" fill="#fff" fill-opacity="0.7"/>
<rect x="1429.90" y="644.50" width="1.00" height="15.70" fill="#fff" fill-opacity="0.7"/>
<rect x="184.90" y="677.00" width="1293.10" height="15.60" fill="#dfe9f1"/>
<rect x="336.00" y="677.00" width="1.00" height="15.60" fill="#fff" fill-opacity="0.7"/>
<rect x="388.60" y="677.00" width="1.00" height="15.60" fill="#fff" fill-opacity="0.7"/>
<rect x="439.60" y="677.00" width="1.00" height="15.60" fill="#fff" fill-opacity="0.7"/>
<rect x="487.00" y="677.00" width="1.00" height="15.60" fill="#fff" fill-opacity="0.7"/>
<rect x="539.90" y="677.00" width="1.00" height="15.60" fill="#fff" fill-opacity="0.7"/>
<rect x="584.90" y="677.00" width="1.00" height="15.60" fill="#fff" fill-opacity="0.7"/>
<rect x="642.00" y="677.00" width="1.00" height="15.60" fill="#fff" fill-opacity="0.7"/>
<rect x="688.25" y="677.00" width="1.00" height="15.60" fill="#fff" fill-opacity="0.7"/>
<rect x="739.50" y="677.00" width="1.00" height="15.60" fill="#fff" fill-opacity="0.7"/>
<rect x="817.00" y="677.00" width="1.00" height="15.60" fill="#fff" fill-opacity="0.7"/>
<rect x="872.00" y="677.00" width="1.00" height="15.60" fill="#fff" fill-opacity="0.7"/>
<rect x="918.90" y="677.00" width="1.00" height="15.60" fill="#fff" fill-opacity="0.7"/>
<rect x="973.70" y="677.00" width="1.00" height="15.60" fill="#fff" fill-opacity="0.7"/>
<rect x="1024.70" y="677.00" width="1.00" height="15.60" fill="#fff" fill-opacity="0.7"/>
<rect x="1076.80" y="677.00" width="1.00" height="15.60" fill="#fff" fill-opacity="0.7"/>
<rect x="1129.50" y="677.00" width="1.00" height="15.60" fill="#fff" fill-opacity="0.7"/>
<rect x="1180.10" y="677.00" width="1.00" height="15.60" fill="#fff" fill-opacity="0.7"/>
<rect x="1230.90" y="677.00" width="1.00" height="15.60" fill="#fff" fill-opacity="0.7"/>
<rect x="1285.90" y="677.00" width="1.00" height="15.60" fill="#fff" fill-opacity="0.7"/>
<rect x="1333.60" y="677.00" width="1.00" height="15.60" fill="#fff" fill-opacity="0.7"/>
<rect x="1380.90" y="677.00" width="1.00" height="15.60" fill="#fff" fill-opacity="0.7"/>
<rect x="1429.90" y="677.00" width="1.00" height="15.60" fill="#fff" fill-opacity="0.7"/>
<rect x="184.90" y="709.00" width="1293.10" height="16.00" fill="#dfe9f1"/>
<rect x="336.00" y="709.00" width="1.00" height="16.00" fill="#fff" fill-opacity="0.7"/>
<rect x="388.60" y="709.00" width="1.00" height="16.00" fill="#fff" fill-opacity="0.7"/>
<rect x="439.60" y="709.00" width="1.00" height="16.00" fill="#fff" fill-opacity="0.7"/>
<rect x="487.00" y="709.00" width="1.00" height="16.00" fill="#fff" fill-opacity="0.7"/>
<rect x="539.90" y="709.00" width="1.00" height="16.00" fill="#fff" fill-opacity="0.7"/>
<rect x="584.90" y="709.00" width="1.00" height="16.00" fill="#fff" fill-opacity="0.7"/>
<rect x="642.00" y="709.00" width="1.00" height="16.00" fill="#fff" fill-opacity="0.7"/>
<rect x="688.25" y="709.00" width="1.00" height="16.00" fill="#fff" fill-opacity="0.7"/>
<rect x="739.50" y="709.00" width="1.00" height="16.00" fill="#fff" fill-opacity="0.7"/>
<rect x="817.00" y="709.00" width="1.00" height="16.00" fill="#fff" fill-opacity="0.7"/>
<rect x="872.00" y="709.00" width="1.00" height="16.00" fill="#fff" fill-opacity="0.7"/>
<rect x="918.90" y="709.00" width="1.00" height="16.00" fill="#fff" fill-opacity="0.7"/>
<rect x="973.70" y="709.00" width="1.00" height="16.00" fill="#fff" fill-opacity="0.7"/>
<rect x="1024.70" y="709.00" width="1.00" height="16.00" fill="#fff" fill-opacity="0.7"/>
<rect x="1076.80" y="709.00" width="1.00" height="16.00" fill="#fff" fill-opacity="0.7"/>
<rect x="1129.50" y="709.00" width="1.00" height="16.00" fill="#fff" fill-opacity="0.7"/>
<rect x="1180.10" y="709.00" width="1.00" height="16.00" fill="#fff" fill-opacity="0.7"/>
<rect x="1230.90" y="709.00" width="1.00" height="16.00" fill="#fff" fill-opacity="0.7"/>
<rect x="1285.90" y="709.00" width="1.00" height="16.00" fill="#fff" fill-opacity="0.7"/>
<rect x="1333.60" y="709.00" width="1.00" height="16.00" fill="#fff" fill-opacity="0.7"/>
<rect x="1380.90" y="709.00" width="1.00" height="16.00" fill="#fff" fill-opacity="0.7"/>
<rect x="1429.90" y="709.00" width="1.00" height="16.00" fill="#fff" fill-opacity="0.7"/>
<rect x="184.90" y="740.75" width="1293.10" height="15.75" fill="#dfe9f1"/>
<rect x="336.00" y="740.75" width="1.00" height="15.75" fill="#fff" fill-opacity="0.7"/>
<rect x="388.60" y="740.75" width="1.00" height="15.75" fill="#fff" fill-opacity="0.7"/>
<rect x="439.60" y="740.75" width="1.00" height="15.75" fill="#fff" fill-opacity="0.7"/>
<rect x="487.00" y="740.75" width="1.00" height="15.75" fill="#fff" fill-opacity="0.7"/>
<rect x="539.90" y="740.75" width="1.00" height="15.75" fill="#fff" fill-opacity="0.7"/>
<rect x="584.90" y="740.75" width="1.00" height="15.75" fill="#fff" fill-opacity="0.7"/>
<rect x="642.00" y="740.75" width="1.00" height="15.75" fill="#fff" fill-opacity="0.7"/>
<rect x="688.25" y="740.75" width="1.00" height="15.75" fill="#fff" fill-opacity="0.7"/>
<rect x="739.50" y="740.75" width="1.00" height="15.75" fill="#fff" fill-opacity="0.7"/>
<rect x="817.00" y="740.75" width="1.00" height="15.75" fill="#fff" fill-opacity="0.7"/>
<rect x="872.00" y="740.75" width="1.00" height="15.75" fill="#fff" fill-opacity="0.7"/>
<rect x="918.90" y="740.75" width="1.00" height="15.75" fill="#fff" fill-opacity="0.7"/>
<rect x="973.70" y="740.75" width="1.00" height="15.75" fill="#fff" fill-opacity="0.7"/>
<rect x="1024.70" y="740.75" width="1.00" height="15.75" fill="#fff" fill-opacity="0.7"/>
<rect x="1076.80" y="740.75" width="1.00" height="15.75" fill="#fff" fill-opacity="0.7"/>
<rect x="1129.50" y="740.75" width="1.00" height="15.75" fill="#fff" fill-opacity="0.7"/>
<rect x="1180.10" y="740.75" width="1.00" height="15.75" fill="#fff" fill-opacity="0.7"/>
<rect x="1230.90" y="740.75" width="1.00" height="15.75" fill="#fff" fill-opacity="0.7"/>
<rect x="1285.90" y="740.75" width="1.00" height="15.75" fill="#fff" fill-opacity="0.7"/>
<rect x="1333.60" y="740.75" width="1.00" height="15.75" fill="#fff" fill-opacity="0.7"/>
<rect x="1380.90" y="740.75" width="1.00" height="15.75" fill="#fff" fill-opacity="0.7"/>
<rect x="1429.90" y="740.75" width="1.00" height="15.75" fill="#fff" fill-opacity="0.7"/>
<rect x="184.90" y="774.25" width="1293.10" height="16.00" fill="#dfe9f1"/>
<rect x="336.00" y="774.25" width="1.00" height="16.00" fill="#fff" fill-opacity="0.7"/>
<rect x="388.60" y="774.25" width="1.00" height="16.00" fill="#fff" fill-opacity="0.7"/>
<rect x="439.60" y="774.25" width="1.00" height="16.00" fill="#fff" fill-opacity="0.7"/>
<rect x="487.00" y="774.25" width="1.00" height="16.00" fill="#fff" fill-opacity="0.7"/>
<rect x="539.90" y="774.25" width="1.00" height="16.00" fill="#fff" fill-opacity="0.7"/>
<rect x="584.90" y="774.25" width="1.00" height="16.00" fill="#fff" fill-opacity="0.7"/>
<rect x="642.00" y="774.25" width="1.00" height="16.00" fill="#fff" fill-opacity="0.7"/>
<rect x="688.25" y="774.25" width="1.00" height="16.00" fill="#fff" fill-opacity="0.7"/>
<rect x="739.50" y="774.25" width="1.00" height="16.00" fill="#fff" fill-opacity="0.7"/>
<rect x="817.00" y="774.25" width="1.00" height="16.00" fill="#fff" fill-opacity="0.7"/>
<rect x="872.00" y="774.25" width="1.00" height="16.00" fill="#fff" fill-opacity="0.7"/>
<rect x="918.90" y="774.25" width="1.00" height="16.00" fill="#fff" fill-opacity="0.7"/>
<rect x="973.70" y="774.25" width="1.00" height="16.00" fill="#fff" fill-opacity="0.7"/>
<rect x="1024.70" y="774.25" width="1.00" height="16.00" fill="#fff" fill-opacity="0.7"/>
<rect x="1076.80" y="774.25" width="1.00" height="16.00" fill="#fff" fill-opacity="0.7"/>
<rect x="1129.50" y="774.25" width="1.00" height="16.00" fill="#fff" fill-opacity="0.7"/>
<rect x="1180.10" y="774.25" width="1.00" height="16.00" fill="#fff" fill-opacity="0.7"/>
<rect x="1230.90" y="774.25" width="1.00" height="16.00" fill="#fff" fill-opacity="0.7"/>
<rect x="1285.90" y="774.25" width="1.00" height="16.00" fill="#fff" fill-opacity="0.7"/>
<rect x="1333.60" y="774.25" width="1.00" height="16.00" fill="#fff" fill-opacity="0.7"/>
<rect x="1380.90" y="774.25" width="1.00" height="16.00" fill="#fff" fill-opacity="0.7"/>
<rect x="1429.90" y="774.25" width="1.00" height="16.00" fill="#fff" fill-opacity="0.7"/>
<rect x="184.90" y="806.90" width="1293.10" height="15.70" fill="#dfe9f1"/>
<rect x="336.00" y="806.90" width="1.00" height="15.70" fill="#fff" fill-opacity="0.7"/>
<rect x="388.60" y="806.90" width="1.00" height="15.70" fill="#fff" fill-opacity="0.7"/>
<rect x="439.60" y="806.90" width="1.00" height="15.70" fill="#fff" fill-opacity="0.7"/>
<rect x="487.00" y="806.90" width="1.00" height="15.70" fill="#fff" fill-opacity="0.7"/>
<rect x="539.90" y="806.90" width="1.00" height="15.70" fill="#fff" fill-opacity="0.7"/>
<rect x="584.90" y="806.90" width="1.00" height="15.70" fill="#fff" fill-opacity="0.7"/>
<rect x="642.00" y="806.90" width="1.00" height="15.70" fill="#fff" fill-opacity="0.7"/>
<rect x="688.25" y="806.90" width="1.00" height="15.70" fill="#fff" fill-opacity="0.7"/>
<rect x="739.50" y="806.90" width="1.00" height="15.70" fill="#fff" fill-opacity="0.7"/>
<rect x="817.00" y="806.90" width="1.00" height="15.70" fill="#fff" fill-opacity="0.7"/>
<rect x="872.00" y="806.90" width="1.00" height="15.70" fill="#fff" fill-opacity="0.7"/>
<rect x="918.90" y="806.90" width="1.00" height="15.70" fill="#fff" fill-opacity="0.7"/>
<rect x="973.70" y="806.90" width="1.00" height="15.70" fill="#fff" fill-opacity="0.7"/>
<rect x="1024.70" y="806.90" width="1.00" height="15.70" fill="#fff" fill-opacity="0.7"/>
<rect x="1076.80" y="806.90" width="1.00" height="15.70" fill="#fff" fill-opacity="0.7"/>
<rect x="1129.50" y="806.90" width="1.00" height="15.70" fill="#fff" fill-opacity="0.7"/>
<rect x="1180.10" y="806.90" width="1.00" height="15.70" fill="#fff" fill-opacity="0.7"/>
<rect x="1230.90" y="806.90" width="1.00" height="15.70" fill="#fff" fill-opacity="0.7"/>
<rect x="1285.90" y="806.90" width="1.00" height="15.70" fill="#fff" fill-opacity="0.7"/>
<rect x="1333.60" y="806.90" width="1.00" height="15.70" fill="#fff" fill-opacity="0.7"/>
<rect x="1380.90" y="806.90" width="1.00" height="15.70" fill="#fff" fill-opacity="0.7"/>
<rect x="1429.90" y="806.90" width="1.00" height="15.70" fill="#fff" fill-opacity="0.7"/>
<rect x="184.90" y="839.25" width="1293.10" height="15.75" fill="#dfe9f1"/>
<rect x="336.00" y="839.25" width="1.00" height="15.75" fill="#fff" fill-opacity="0.7"/>
<rect x="388.60" y="839.25" width="1.00" height="15.75" fill="#fff" fill-opacity="0.7"/>
<rect x="439.60" y="839.25" width="1.00" height="15.75" fill="#fff" fill-opacity="0.7"/>
<rect x="487.00" y="839.25" width="1.00" height="15.75" fill="#fff" fill-opacity="0.7"/>
<rect x="539.90" y="839.25" width="1.00" height="15.75" fill="#fff" fill-opacity="0.7"/>
<rect x="584.90" y="839.25" width="1.00" height="15.75" fill="#fff" fill-opacity="0.7"/>
<rect x="642.00" y="839.25" width="1.00" height="15.75" fill="#fff" fill-opacity="0.7"/>
<rect x="688.25" y="839.25" width="1.00" height="15.75" fill="#fff" fill-opacity="0.7"/>
<rect x="739.50" y="839.25" width="1.00" height="15.75" fill="#fff" fill-opacity="0.7"/>
<rect x="817.00" y="839.25" width="1.00" height="15.75" fill="#fff" fill-opacity="0.7"/>
<rect x="872.00" y="839.25" width="1.00" height="15.75" fill="#fff" fill-opacity="0.7"/>
<rect x="918.90" y="839.25" width="1.00" height="15.75" fill="#fff" fill-opacity="0.7"/>
<rect x="973.70" y="839.25" width="1.00" height="15.75" fill="#fff" fill-opacity="0.7"/>
<rect x="1024.70" y="839.25" width="1.00" height="15.75" fill="#fff" fill-opacity="0.7"/>
<rect x="1076.80" y="839.25" width="1.00" height="15.75" fill="#fff" fill-opacity="0.7"/>
<rect x="1129.50" y="839.25" width="1.00" height="15.75" fill="#fff" fill-opacity="0.7"/>
<rect x="1180.10" y="839.25" width="1.00" height="15.75" fill="#fff" fill-opacity="0.7"/>
<rect x="1230.90" y="839.25" width="1.00" height="15.75" fill="#fff" fill-opacity="0.7"/>
<rect x="1285.90" y="839.25" width="1.00" height="15.75" fill="#fff" fill-opacity="0.7"/>
<rect x="1333.60" y="839.25" width="1.00" height="15.75" fill="#fff" fill-opacity="0.7"/>
<rect x="1380.90" y="839.25" width="1.00" height="15.75" fill="#fff" fill-opacity="0.7"/>
<rect x="1429.90" y="839.25" width="1.00" height="15.75" fill="#fff" fill-opacity="0.7"/>
<rect x="184.90" y="872.00" width="1293.10" height="15.70" fill="#dfe9f1"/>
<rect x="336.00" y="872.00" width="1.00" height="15.70" fill="#fff" fill-opacity="0.7"/>
<rect x="388.60" y="872.00" width="1.00" height="15.70" fill="#fff" fill-opacity="0.7"/>
<rect x="439.60" y="872.00" width="1.00" height="15.70" fill="#fff" fill-opacity="0.7"/>
<rect x="487.00" y="872.00" width="1.00" height="15.70" fill="#fff" fill-opacity="0.7"/>
<rect x="539.90" y="872.00" width="1.00" height="15.70" fill="#fff" fill-opacity="0.7"/>
<rect x="584.90" y="872.00" width="1.00" height="15.70" fill="#fff" fill-opacity="0.7"/>
<rect x="642.00" y="872.00" width="1.00" height="15.70" fill="#fff" fill-opacity="0.7"/>
<rect x="688.25" y="872.00" width="1.00" height="15.70" fill="#fff" fill-opacity="0.7"/>
<rect x="739.50" y="872.00" width="1.00" height="15.70" fill="#fff" fill-opacity="0.7"/>
<rect x="817.00" y="872.00" width="1.00" height="15.70" fill="#fff" fill-opacity="0.7"/>
<rect x="872.00" y="872.00" width="1.00" height="15.70" fill="#fff" fill-opacity="0.7"/>
<rect x="918.90" y="872.00" width="1.00" height="15.70" fill="#fff" fill-opacity="0.7"/>
<rect x="973.70" y="872.00" width="1.00" height="15.70" fill="#fff" fill-opacity="0.7"/>
<rect x="1024.70" y="872.00" width="1.00" height="15.70" fill="#fff" fill-opacity="0.7"/>
<rect x="1076.80" y="872.00" width="1.00" height="15.70" fill="#fff" fill-opacity="0.7"/>
<rect x="1129.50" y="872.00" width="1.00" height="15.70" fill="#fff" fill-opacity="0.7"/>
<rect x="1180.10" y="872.00" width="1.00" height="15.70" fill="#fff" fill-opacity="0.7"/>
<rect x="1230.90" y="872.00" width="1.00" height="15.70" fill="#fff" fill-opacity="0.7"/>
<rect x="1285.90" y="872.00" width="1.00" height="15.70" fill="#fff" fill-opacity="0.7"/>
<rect x="1333.60" y="872.00" width="1.00" height="15.70" fill="#fff" fill-opacity="0.7"/>
<rect x="1380.90" y="872.00" width="1.00" height="15.70" fill="#fff" fill-opacity="0.7"/>
<rect x="1429.90" y="872.00" width="1.00" height="15.70" fill="#fff" fill-opacity="0.7"/>
<rect x="184.90" y="904.00" width="1293.10" height="16.00" fill="#dfe9f1"/>
<rect x="336.00" y="904.00" width="1.00" height="16.00" fill="#fff" fill-opacity="0.7"/>
<rect x="388.60" y="904.00" width="1.00" height="16.00" fill="#fff" fill-opacity="0.7"/>
<rect x="439.60" y="904.00" width="1.00" height="16.00" fill="#fff" fill-opacity="0.7"/>
<rect x="487.00" y="904.00" width="1.00" height="16.00" fill="#fff" fill-opacity="0.7"/>
<rect x="539.90" y="904.00" width="1.00" height="16.00" fill="#fff" fill-opacity="0.7"/>
<rect x="584.90" y="904.00" width="1.00" height="16.00" fill="#fff" fill-opacity="0.7"/>
<rect x="642.00" y="904.00" width="1.00" height="16.00" fill="#fff" fill-opacity="0.7"/>
<rect x="688.25" y="904.00" width="1.00" height="16.00" fill="#fff" fill-opacity="0.7"/>
<rect x="739.50" y="904.00" width="1.00" height="16.00" fill="#fff" fill-opacity="0.7"/>
<rect x="817.00" y="904.00" width="1.00" height="16.00" fill="#fff" fill-opacity="0.7"/>
<rect x="872.00" y="904.00" width="1.00" height="16.00" fill="#fff" fill-opacity="0.7"/>
<rect x="918.90" y="904.00" width="1.00" height="16.00" fill="#fff" fill-opacity="0.7"/>
<rect x="973.70" y="904.00" width="1.00" height="16.00" fill="#fff" fill-opacity="0.7"/>
<rect x="1024.70" y="904.00" width="1.00" height="16.00" fill="#fff" fill-opacity="0.7"/>
<rect x="1076.80" y="904.00" width="1.00" height="16.00" fill="#fff" fill-opacity="0.7"/>
<rect x="1129.50" y="904.00" width="1.00" height="16.00" fill="#fff" fill-opacity="0.7"/>
<rect x="1180.10" y="904.00" width="1.00" height="16.00" fill="#fff" fill-opacity="0.7"/>
<rect x="1230.90" y="904.00" width="1.00" height="16.00" fill="#fff" fill-opacity="0.7"/>
<rect x="1285.90" y="904.00" width="1.00" height="16.00" fill="#fff" fill-opacity="0.7"/>
<rect x="1333.60" y="904.00" width="1.00" height="16.00" fill="#fff" fill-opacity="0.7"/>
<rect x="1380.90" y="904.00" width="1.00" height="16.00" fill="#fff" fill-opacity="0.7"/>
<rect x="1429.90" y="904.00" width="1.00" height="16.00" fill="#fff" fill-opacity="0.7"/>
<rect x="184.90" y="935.60" width="1293.10" height="15.90" fill="#dfe9f1"/>
<rect x="336.00" y="935.60" width="1.00" height="15.90" fill="#fff" fill-opacity="0.7"/>
<rect x="388.60" y="935.60" width="1.00" height="15.90" fill="#fff" fill-opacity="0.7"/>
<rect x="439.60" y="935.60" width="1.00" height="15.90" fill="#fff" fill-opacity="0.7"/>
<rect x="487.00" y="935.60" width="1.00" height="15.90" fill="#fff" fill-opacity="0.7"/>
<rect x="539.90" y="935.60" width="1.00" height="15.90" fill="#fff" fill-opacity="0.7"/>
<rect x="584.90" y="935.60" width="1.00" height="15.90" fill="#fff" fill-opacity="0.7"/>
<rect x="642.00" y="935.60" width="1.00" height="15.90" fill="#fff" fill-opacity="0.7"/>
<rect x="688.25" y="935.60" width="1.00" height="15.90" fill="#fff" fill-opacity="0.7"/>
<rect x="739.50" y="935.60" width="1.00" height="15.90" fill="#fff" fill-opacity="0.7"/>
<rect x="817.00" y="935.60" width="1.00" height="15.90" fill="#fff" fill-opacity="0.7"/>
<rect x="872.00" y="935.60" width="1.00" height="15.90" fill="#fff" fill-opacity="0.7"/>
<rect x="918.90" y="935.60" width="1.00" height="15.90" fill="#fff" fill-opacity="0.7"/>
<rect x="973.70" y="935.60" width="1.00" height="15.90" fill="#fff" fill-opacity="0.7"/>
<rect x="1024.70" y="935.60" width="1.00" height="15.90" fill="#fff" fill-opacity="0.7"/>
<rect x="1076.80" y="935.60" width="1.00" height="15.90" fill="#fff" fill-opacity="0.7"/>
<rect x="1129.50" y="935.60" width="1.00" height="15.90" fill="#fff" fill-opacity="0.7"/>
<rect x="1180.10" y="935.60" width="1.00" height="15.90" fill="#fff" fill-opacity="0.7"/>
<rect x="1230.90" y="935.60" width="1.00" height="15.90" fill="#fff" fill-opacity="0.7"/>
<rect x="1285.90" y="935.60" width="1.00" height="15.90" fill="#fff" fill-opacity="0.7"/>
<rect x="1333.60" y="935.60" width="1.00" height="15.90" fill="#fff" fill-opacity="0.7"/>
<rect x="1380.90" y="935.60" width="1.00" height="15.90" fill="#fff" fill-opacity="0.7"/>
<rect x="1429.90" y="935.60" width="1.00" height="15.90" fill="#fff" fill-opacity="0.7"/>
<rect x="184.90" y="970.25" width="1293.10" height="16.50" fill="#dfe9f1"/>
<rect x="336.00" y="970.25" width="1.00" height="16.50" fill="#fff" fill-opacity="0.7"/>
<rect x="388.60" y="970.25" width="1.00" height="16.50" fill="#fff" fill-opacity="0.7"/>
<rect x="439.60" y="970.25" width="1.00" height="16.50" fill="#fff" fill-opacity="0.7"/>
<rect x="487.00" y="970.25" width="1.00" height="16.50" fill="#fff" fill-opacity="0.7"/>
<rect x="539.90" y="970.25" width="1.00" height="16.50" fill="#fff" fill-opacity="0.7"/>
<rect x="584.90" y="970.25" width="1.00" height="16.50" fill="#fff" fill-opacity="0.7"/>
<rect x="642.00" y="970.25" width="1.00" height="16.50" fill="#fff" fill-opacity="0.7"/>
<rect x="688.25" y="970.25" width="1.00" height="16.50" fill="#fff" fill-opacity="0.7"/>
<rect x="739.50" y="970.25" width="1.00" height="16.50" fill="#fff" fill-opacity="0.7"/>
<rect x="817.00" y="970.25" width="1.00" height="16.50" fill="#fff" fill-opacity="0.7"/>
<rect x="872.00" y="970.25" width="1.00" height="16.50" fill="#fff" fill-opacity="0.7"/>
<rect x="918.90" y="970.25" width="1.00" height="16.50" fill="#fff" fill-opacity="0.7"/>
<rect x="973.70" y="970.25" width="1.00" height="16.50" fill="#fff" fill-opacity="0.7"/>
<rect x="1024.70" y="970.25" width="1.00" height="16.50" fill="#fff" fill-opacity="0.7"/>
<rect x="1076.80" y="970.25" width="1.00" height="16.50" fill="#fff" fill-opacity="0.7"/>
<rect x="1129.50" y="970.25" width="1.00" height="16.50" fill="#fff" fill-opacity="0.7"/>
<rect x="1180.10" y="970.25" width="1.00" height="16.50" fill="#fff" fill-opacity="0.7"/>
<rect x="1230.90" y="970.25" width="1.00" height="16.50" fill="#fff" fill-opacity="0.7"/>
<rect x="1285.90" y="970.25" width="1.00" height="16.50" fill="#fff" fill-opacity="0.7"/>
<rect x="1333.60" y="970.25" width="1.00" height="16.50" fill="#fff" fill-opacity="0.7"/>
<rect x="1380.90" y="970.25" width="1.00" height="16.50" fill="#fff" fill-opacity="0.7"/>
<rect x="1429.90" y="970.25" width="1.00" height="16.50" fill="#fff" fill-opacity="0.7"/>
<rect x="119.30" y="81.05" width="1358.70" height="0.90" fill="#fff" fill-opacity="0.85"/>
<rect x="119.30" y="98.15" width="1358.70" height="1.50" fill="#fff" fill-opacity="0.9"/>
<rect x="184.40" y="113.55" width="1293.60" height="0.90" fill="#fff" fill-opacity="0.85"/>
<rect x="184.40" y="129.95" width="1293.60" height="0.90" fill="#fff" fill-opacity="0.85"/>
<rect x="184.40" y="144.75" width="1293.60" height="0.90" fill="#fff" fill-opacity="0.85"/>
<rect x="119.30" y="159.25" width="1358.70" height="1.10" fill="#fff" fill-opacity="0.9"/>
<rect x="183.95" y="61.00" width="0.90" height="98.80" fill="#fff" fill-opacity="0.85"/>
<rect x="336.05" y="61.00" width="0.90" height="98.80" fill="#fff" fill-opacity="0.85"/>
<rect x="539.95" y="61.00" width="0.90" height="98.80" fill="#fff" fill-opacity="0.85"/>
<rect x="688.30" y="61.00" width="0.90" height="98.80" fill="#fff" fill-opacity="0.85"/>
<rect x="918.95" y="61.00" width="0.90" height="98.80" fill="#fff" fill-opacity="0.85"/>
<rect x="1180.15" y="61.00" width="0.90" height="98.80" fill="#fff" fill-opacity="0.85"/>
<rect x="1333.65" y="61.00" width="0.90" height="98.80" fill="#fff" fill-opacity="0.85"/>
<rect x="388.65" y="81.50" width="0.90" height="78.30" fill="#fff" fill-opacity="0.85"/>
<rect x="439.65" y="81.50" width="0.90" height="78.30" fill="#fff" fill-opacity="0.85"/>
<rect x="487.05" y="81.50" width="0.90" height="78.30" fill="#fff" fill-opacity="0.85"/>
<rect x="584.95" y="81.50" width="0.90" height="78.30" fill="#fff" fill-opacity="0.85"/>
<rect x="642.05" y="81.50" width="0.90" height="78.30" fill="#fff" fill-opacity="0.85"/>
<rect x="739.55" y="81.50" width="0.90" height="78.30" fill="#fff" fill-opacity="0.85"/>
<rect x="817.05" y="81.50" width="0.90" height="78.30" fill="#fff" fill-opacity="0.85"/>
<rect x="872.05" y="81.50" width="0.90" height="78.30" fill="#fff" fill-opacity="0.85"/>
<rect x="973.75" y="81.50" width="0.90" height="48.90" fill="#fff" fill-opacity="0.85"/>
<rect x="973.75" y="145.20" width="0.90" height="14.60" fill="#fff" fill-opacity="0.85"/>
<rect x="1024.75" y="81.50" width="0.90" height="78.30" fill="#fff" fill-opacity="0.85"/>
<rect x="1076.85" y="81.50" width="0.90" height="48.90" fill="#fff" fill-opacity="0.85"/>
<rect x="1076.85" y="145.20" width="0.90" height="14.60" fill="#fff" fill-opacity="0.85"/>
<rect x="1129.55" y="81.50" width="0.90" height="78.30" fill="#fff" fill-opacity="0.85"/>
<rect x="1230.95" y="81.50" width="0.90" height="78.30" fill="#fff" fill-opacity="0.85"/>
<rect x="1285.95" y="81.50" width="0.90" height="78.30" fill="#fff" fill-opacity="0.85"/>
<rect x="1380.95" y="81.50" width="0.90" height="78.30" fill="#fff" fill-opacity="0.85"/>
<rect x="1429.95" y="81.50" width="0.90" height="78.30" fill="#fff" fill-opacity="0.85"/>
<line x1="120.0" y1="98.9" x2="184.0" y2="159.60000000000002" stroke="#fff" stroke-opacity="0.85" stroke-width="0.9"/>
<rect x="119.30" y="287.85" width="65.10" height="1.10" fill="#fff" fill-opacity="0.9"/>
<rect x="119.30" y="484.70" width="65.10" height="1.10" fill="#fff" fill-opacity="0.9"/>
<rect x="119.30" y="563.45" width="65.10" height="1.10" fill="#fff" fill-opacity="0.9"/>
<rect x="119.30" y="661.45" width="65.10" height="1.10" fill="#fff" fill-opacity="0.9"/>
<rect x="119.30" y="740.20" width="65.10" height="1.10" fill="#fff" fill-opacity="0.9"/>
<rect x="119.30" y="806.20" width="65.10" height="1.10" fill="#fff" fill-opacity="0.9"/>
<rect x="119.30" y="871.70" width="65.10" height="1.10" fill="#fff" fill-opacity="0.9"/>
<rect x="119.30" y="920.70" width="65.10" height="1.10" fill="#fff" fill-opacity="0.9"/>
<rect x="0.00" y="1047.20" width="1600.00" height="37.80" fill="#458bca"/>
<path d="M21.00,1065.00 V1038.90 A26.30,26.10 0 0 1 47.30,1012.80 A26.30,26.10 0 0 1 73.60,1038.90 A26.30,26.10 0 0 1 47.30,1065.00 Z" fill="#fff"/>
<path d="M25.00,1061.20 V1039.00 A22.35,22.20 0 0 1 47.35,1016.80 A22.35,22.20 0 0 1 69.70,1039.00 A22.35,22.20 0 0 1 47.35,1061.20 Z" fill="#458bca"/>
<path d="M1579.30,1065.00 V1038.90 A26.35,26.10 0 0 0 1552.95,1012.80 A26.35,26.10 0 0 0 1526.60,1038.90 A26.35,26.10 0 0 0 1552.95,1065.00 Z" fill="#fff"/>
<path d="M1575.30,1061.20 V1039.00 A22.25,22.20 0 0 0 1553.05,1016.80 A22.25,22.20 0 0 0 1530.80,1039.00 A22.25,22.20 0 0 0 1553.05,1061.20 Z" fill="#458bca"/>
<rect x="85.25" y="1058.50" width="85.80" height="2.20" fill="#fff"/>
<rect x="1431.20" y="1058.50" width="85.80" height="2.20" fill="#fff"/>
<circle cx="615.5" cy="168.25" r="4.25" fill="#000"/>
<circle cx="414" cy="185" r="4.45" fill="#fff" fill-opacity="0.4" stroke="#111" stroke-width="0.95"/>
<circle cx="563.5" cy="183.75" r="4.25" fill="#000"/>
<circle cx="615.5" cy="185" r="4.45" fill="#fff" fill-opacity="0.4" stroke="#111" stroke-width="0.95"/>
<circle cx="666.5" cy="185" r="4.45" fill="#fff" fill-opacity="0.4" stroke="#111" stroke-width="0.95"/>
<circle cx="363.25" cy="200.25" r="4.45" fill="#fff" fill-opacity="0.4" stroke="#111" stroke-width="0.95"/>
<circle cx="414" cy="200.25" r="4.25" fill="#000"/>
<circle cx="563.5" cy="200.25" r="4.45" fill="#fff" fill-opacity="0.4" stroke="#111" stroke-width="0.95"/>
<circle cx="666.5" cy="200.25" r="4.45" fill="#fff" fill-opacity="0.4" stroke="#111" stroke-width="0.95"/>
<circle cx="463.25" cy="215.75" r="4.45" fill="#fff" fill-opacity="0.4" stroke="#111" stroke-width="0.95"/>
<circle cx="513.75" cy="215.75" r="4.45" fill="#fff" fill-opacity="0.4" stroke="#111" stroke-width="0.95"/>
<circle cx="563.5" cy="215.75" r="4.25" fill="#000"/>
<circle cx="363.25" cy="230.75" r="4.45" fill="#fff" fill-opacity="0.4" stroke="#111" stroke-width="0.95"/>
<circle cx="463.25" cy="231" r="4.25" fill="#000"/>
<circle cx="513.75" cy="231" r="4.25" fill="#000"/>
<circle cx="414" cy="247" r="4.25" fill="#000"/>
<circle cx="1258" cy="263.25" r="4.25" fill="#000"/>
<circle cx="1309.25" cy="263.5" r="4.45" fill="#fff" fill-opacity="0.4" stroke="#111" stroke-width="0.95"/>
<circle cx="1405.25" cy="263.5" r="4.45" fill="#fff" fill-opacity="0.4" stroke="#111" stroke-width="0.95"/>
<circle cx="666.5" cy="280" r="4.25" fill="#000"/>
<circle cx="414" cy="295.5" r="4.25" fill="#000"/>
<circle cx="948.75" cy="297" r="4.45" fill="#fff" fill-opacity="0.4" stroke="#111" stroke-width="0.95"/>
<circle cx="1453.25" cy="295.75" r="4.45" fill="#fff" fill-opacity="0.4" stroke="#111" stroke-width="0.95"/>
<circle cx="363.25" cy="312" r="4.45" fill="#fff" fill-opacity="0.4" stroke="#111" stroke-width="0.95"/>
<circle cx="414" cy="312" r="4.25" fill="#000"/>
<circle cx="463.25" cy="312" r="4.45" fill="#fff" fill-opacity="0.4" stroke="#111" stroke-width="0.95"/>
<circle cx="513.75" cy="312" r="4.45" fill="#fff" fill-opacity="0.4" stroke="#111" stroke-width="0.95"/>
<circle cx="563.5" cy="312" r="4.25" fill="#000"/>
<circle cx="615.5" cy="312" r="4.25" fill="#000"/>
<circle cx="715.5" cy="312" r="4.45" fill="#fff" fill-opacity="0.4" stroke="#111" stroke-width="0.95"/>
<circle cx="767.5" cy="312" r="4.45" fill="#fff" fill-opacity="0.4" stroke="#111" stroke-width="0.95"/>
<circle cx="843.25" cy="312" r="4.45" fill="#fff" fill-opacity="0.4" stroke="#111" stroke-width="0.95"/>
<circle cx="889.75" cy="312" r="4.45" fill="#fff" fill-opacity="0.4" stroke="#111" stroke-width="0.95"/>
<circle cx="1205.5" cy="311.75" r="4.45" fill="#fff" fill-opacity="0.4" stroke="#111" stroke-width="0.95"/>
<circle cx="1258" cy="311.75" r="4.45" fill="#fff" fill-opacity="0.4" stroke="#111" stroke-width="0.95"/>
<circle cx="1309.25" cy="311.75" r="4.45" fill="#fff" fill-opacity="0.4" stroke="#111" stroke-width="0.95"/>
<circle cx="1357.75" cy="311.75" r="4.45" fill="#fff" fill-opacity="0.4" stroke="#111" stroke-width="0.95"/>
<circle cx="1405.25" cy="311.75" r="4.45" fill="#fff" fill-opacity="0.4" stroke="#111" stroke-width="0.95"/>
<circle cx="1453.25" cy="312" r="4.45" fill="#fff" fill-opacity="0.4" stroke="#111" stroke-width="0.95"/>
<circle cx="363.25" cy="329" r="4.45" fill="#fff" fill-opacity="0.4" stroke="#111" stroke-width="0.95"/>
<circle cx="463.25" cy="329" r="4.25" fill="#000"/>
<circle cx="513.75" cy="329" r="4.25" fill="#000"/>
<circle cx="1156.25" cy="344.75" r="4.25" fill="#000"/>
<circle cx="767.5" cy="362.5" r="4.45" fill="#fff" fill-opacity="0.4" stroke="#111" stroke-width="0.95"/>
<circle cx="843.25" cy="362.5" r="4.25" fill="#000"/>
<circle cx="896.5" cy="379" r="4.25" fill="#000"/>
<circle cx="715.5" cy="393" r="4.25" fill="#000"/>
<circle cx="896.5" cy="395" r="4.45" fill="#fff" fill-opacity="0.4" stroke="#111" stroke-width="0.95"/>
<circle cx="715.5" cy="410" r="4.25" fill="#000"/>
<circle cx="767.5" cy="410" r="4.45" fill="#fff" fill-opacity="0.4" stroke="#111" stroke-width="0.95"/>
<circle cx="843.25" cy="410" r="4.25" fill="#000"/>
<circle cx="414" cy="426.75" r="4.25" fill="#000"/>
<circle cx="715.5" cy="425.5" r="4.45" fill="#fff" fill-opacity="0.4" stroke="#111" stroke-width="0.95"/>
<circle cx="843.25" cy="425.5" r="4.45" fill="#fff" fill-opacity="0.4" stroke="#111" stroke-width="0.95"/>
<circle cx="363.25" cy="443.5" r="4.25" fill="#000"/>
<circle cx="414" cy="460" r="4.25" fill="#000"/>
<circle cx="463.25" cy="460.25" r="4.45" fill="#fff" fill-opacity="0.4" stroke="#111" stroke-width="0.95"/>
<circle cx="513.75" cy="460.25" r="4.45" fill="#fff" fill-opacity="0.4" stroke="#111" stroke-width="0.95"/>
<circle cx="414" cy="475" r="4.25" fill="#000"/>
<circle cx="463.25" cy="490.75" r="4.45" fill="#fff" fill-opacity="0.4" stroke="#111" stroke-width="0.95"/>
<circle cx="1258" cy="490.5" r="4.45" fill="#fff" fill-opacity="0.4" stroke="#111" stroke-width="0.95"/>
<circle cx="1309.25" cy="491.75" r="4.25" fill="#000"/>
<circle cx="1258" cy="507" r="4.25" fill="#000"/>
<circle cx="1205.5" cy="523.5" r="4.25" fill="#000"/>
<circle cx="414" cy="538.75" r="4.25" fill="#000"/>
<circle cx="363.25" cy="555.25" r="4.45" fill="#fff" fill-opacity="0.4" stroke="#111" stroke-width="0.95"/>
<circle cx="414" cy="555.25" r="4.25" fill="#000"/>
<circle cx="948.75" cy="572.25" r="4.25" fill="#000"/>
<circle cx="999.75" cy="572.25" r="4.45" fill="#fff" fill-opacity="0.4" stroke="#111" stroke-width="0.95"/>
<circle cx="1051.25" cy="572.25" r="4.25" fill="#000"/>
<circle cx="1103.25" cy="589.5" r="4.25" fill="#000"/>
<circle cx="948.75" cy="606" r="4.45" fill="#fff" fill-opacity="0.4" stroke="#111" stroke-width="0.95"/>
<circle cx="999.75" cy="606.5" r="4.45" fill="#fff" fill-opacity="0.4" stroke="#111" stroke-width="0.95"/>
<circle cx="1051.25" cy="606" r="4.25" fill="#000"/>
<circle cx="1103.25" cy="606" r="4.45" fill="#fff" fill-opacity="0.4" stroke="#111" stroke-width="0.95"/>
<circle cx="1156.25" cy="606" r="4.45" fill="#fff" fill-opacity="0.4" stroke="#111" stroke-width="0.95"/>
<circle cx="948.75" cy="622.75" r="4.45" fill="#fff" fill-opacity="0.4" stroke="#111" stroke-width="0.95"/>
<circle cx="999.75" cy="622.75" r="4.45" fill="#fff" fill-opacity="0.4" stroke="#111" stroke-width="0.95"/>
<circle cx="1051.25" cy="622.75" r="4.25" fill="#000"/>
<circle cx="1453.25" cy="638" r="4.25" fill="#000"/>
<circle cx="948.75" cy="652.5" r="4.25" fill="#000"/>
<circle cx="1051.25" cy="652.5" r="4.45" fill="#fff" fill-opacity="0.4" stroke="#111" stroke-width="0.95"/>
<circle cx="1103.25" cy="652.5" r="4.45" fill="#fff" fill-opacity="0.4" stroke="#111" stroke-width="0.95"/>
<circle cx="1156.25" cy="652.5" r="4.45" fill="#fff" fill-opacity="0.4" stroke="#111" stroke-width="0.95"/>
<circle cx="1357.75" cy="652.5" r="4.25" fill="#000"/>
<circle cx="363.25" cy="670" r="4.25" fill="#000"/>
<circle cx="463.25" cy="670.25" r="4.45" fill="#fff" fill-opacity="0.4" stroke="#111" stroke-width="0.95"/>
<circle cx="513.75" cy="670.25" r="4.45" fill="#fff" fill-opacity="0.4" stroke="#111" stroke-width="0.95"/>
<circle cx="1156.25" cy="667" r="4.45" fill="#fff" fill-opacity="0.4" stroke="#111" stroke-width="0.95"/>
<circle cx="463.25" cy="685.5" r="4.25" fill="#000"/>
<circle cx="513.75" cy="685.5" r="4.25" fill="#000"/>
<circle cx="363.25" cy="702" r="4.45" fill="#fff" fill-opacity="0.4" stroke="#111" stroke-width="0.95"/>
<circle cx="463.25" cy="700.75" r="4.25" fill="#000"/>
<circle cx="513.75" cy="700.75" r="4.25" fill="#000"/>
<circle cx="948.75" cy="702.25" r="4.45" fill="#fff" fill-opacity="0.4" stroke="#111" stroke-width="0.95"/>
<circle cx="1051.25" cy="702.25" r="4.45" fill="#fff" fill-opacity="0.4" stroke="#111" stroke-width="0.95"/>
<circle cx="1405.25" cy="702.25" r="4.45" fill="#fff" fill-opacity="0.4" stroke="#111" stroke-width="0.95"/>
<circle cx="948.75" cy="734.5" r="4.45" fill="#fff" fill-opacity="0.4" stroke="#111" stroke-width="0.95"/>
<circle cx="1156.25" cy="733" r="4.45" fill="#fff" fill-opacity="0.4" stroke="#111" stroke-width="0.95"/>
<circle cx="1453.25" cy="733" r="4.25" fill="#000"/>
<circle cx="463.25" cy="749" r="4.45" fill="#fff" fill-opacity="0.4" stroke="#111" stroke-width="0.95"/>
<circle cx="948.75" cy="749" r="4.25" fill="#000"/>
<circle cx="1357.75" cy="749" r="4.25" fill="#000"/>
<circle cx="463.25" cy="765.75" r="4.45" fill="#fff" fill-opacity="0.4" stroke="#111" stroke-width="0.95"/>
<circle cx="1357.75" cy="767" r="4.25" fill="#000"/>
<circle cx="1357.75" cy="783.25" r="4.25" fill="#000"/>
<circle cx="1405.25" cy="782.5" r="4.45" fill="#fff" fill-opacity="0.4" stroke="#111" stroke-width="0.95"/>
<circle cx="463.25" cy="798.25" r="4.45" fill="#fff" fill-opacity="0.4" stroke="#111" stroke-width="0.95"/>
<circle cx="1156.25" cy="798.25" r="4.25" fill="#000"/>
<circle cx="1357.75" cy="799.5" r="4.25" fill="#000"/>
<circle cx="1357.75" cy="817.25" r="4.25" fill="#000"/>
<circle cx="463.25" cy="831.25" r="4.45" fill="#fff" fill-opacity="0.4" stroke="#111" stroke-width="0.95"/>
<circle cx="1357.75" cy="833" r="4.25" fill="#000"/>
<circle cx="1357.75" cy="848.25" r="4.25" fill="#000"/>
<circle cx="1357.75" cy="864.5" r="4.25" fill="#000"/>
<circle cx="463.25" cy="880.25" r="4.45" fill="#fff" fill-opacity="0.4" stroke="#111" stroke-width="0.95"/>
<circle cx="513.75" cy="880" r="4.25" fill="#000"/>
<circle cx="999.75" cy="896.5" r="4.45" fill="#fff" fill-opacity="0.4" stroke="#111" stroke-width="0.95"/>
<circle cx="1050.75" cy="897.25" r="4.45" fill="#fff" fill-opacity="0.4" stroke="#111" stroke-width="0.95"/>
<circle cx="1156.25" cy="897.75" r="4.25" fill="#000"/>
<circle cx="999.75" cy="912.5" r="4.25" fill="#000"/>
<circle cx="1156.25" cy="928.75" r="4.25" fill="#000"/>
<circle cx="1156.25" cy="944.6" r="4.25" fill="#000"/>
<circle cx="1156.25" cy="960.75" r="4.25" fill="#000"/>
<circle cx="765.75" cy="979.5" r="4.45" fill="#fff" fill-opacity="0.4" stroke="#111" stroke-width="0.95"/>
<circle cx="844.75" cy="979.5" r="4.45" fill="#fff" fill-opacity="0.4" stroke="#111" stroke-width="0.95"/>
<circle cx="1156.25" cy="977.25" r="4.25" fill="#000"/>
</svg>
<div class="t title" style="left:161.42px;top:20px;width:152px;text-align:center;letter-spacing:1.77px;"><span class="la">pH</span>电极选型指南</div>
<div class="t leg" style="left:1269.48px;top:37px;letter-spacing:0.19px;">标记说明：</div>
<div class="t leg" style="left:1335.55px;top:37px;letter-spacing:0.36px;">—推荐使用</div>
<div class="t leg" style="left:1417.08px;top:37px;letter-spacing:0.56px;">—可以使用</div>
<div class="t hh" style="left:222.15px;top:65px;width:72px;text-align:center;letter-spacing:1.40px;">电极用途分类</div>
<div class="t hg" style="left:370.62px;top:65px;width:136px;text-align:center;letter-spacing:2.38px;">实验室和现场常规测试</div>
<div class="t hg" style="left:557.64px;top:65px;width:110px;text-align:center;letter-spacing:2.21px;">低离子和低温测量</div>
<div class="t hg" style="left:767.66px;top:65px;width:68px;text-align:center;letter-spacing:3.11px;">微量 测量</div>
<div class="t hg" style="left:1007.39px;top:65px;width:98px;text-align:center;letter-spacing:2.32px;">固体和平面测量</div>
<div class="t hg" style="left:1196.59px;top:65px;width:122px;text-align:center;letter-spacing:2.21px;">强酸强碱和高温测试</div>
<div class="t hg" style="left:1350.57px;top:65px;width:110px;text-align:center;letter-spacing:2.23px;">粘稠和乳制品测试</div>
<div class="t hh" style="left:135.90px;top:84px;width:32px;text-align:center;">型号</div>
<div class="t hm" style="left:233.00px;top:83px;width:50px;text-align:center;transform-origin:50% 50%;transform:scaleX(0.858);">LabSen<span class="r">®</span></div>
<div class="t hm" style="left:348.00px;top:83px;width:30px;text-align:center;transform-origin:50% 50%;transform:scaleX(0.894);">211</div>
<div class="t hm" style="left:399.00px;top:83px;width:30px;text-align:center;transform-origin:50% 50%;transform:scaleX(0.844);">221</div>
<div class="t hm" style="left:448.00px;top:83px;width:30px;text-align:center;transform-origin:50% 50%;transform:scaleX(0.844);">231</div>
<div class="t hm" style="left:499.00px;top:83px;width:30px;text-align:center;transform-origin:50% 50%;transform:scaleX(0.844);">331</div>
<div class="t hm" style="left:548.00px;top:83px;width:30px;text-align:center;transform-origin:50% 50%;transform:scaleX(0.844);">801</div>
<div class="t hm" style="left:600.00px;top:83px;width:30px;text-align:center;transform-origin:50% 50%;transform:scaleX(0.894);">811</div>
<div class="t hm" style="left:651.00px;top:83px;width:30px;text-align:center;transform-origin:50% 50%;transform:scaleX(0.844);">881</div>
<div class="t hm" style="left:696.00px;top:83px;width:40px;text-align:center;transform-origin:50% 50%;transform:scaleX(0.886);">241-6</div>
<div class="t hm" style="left:747.00px;top:83px;width:40px;text-align:center;transform-origin:50% 50%;transform:scaleX(0.891);">241-3</div>
<div class="t hm" style="left:820.00px;top:83px;width:48px;text-align:center;transform-origin:50% 50%;transform:scaleX(0.847);">241-3S</div>
<div class="t hm" style="left:866.00px;top:83px;width:60px;text-align:center;transform-origin:50% 50%;transform:scaleX(0.854);">241-NMR</div>
<div class="t hm" style="left:934.00px;top:83px;width:30px;text-align:center;transform-origin:50% 50%;transform:scaleX(0.844);">251</div>
<div class="t hm" style="left:985.00px;top:83px;width:30px;text-align:center;transform-origin:50% 50%;transform:scaleX(0.856);">551</div>
<div class="t hm" style="left:1038.00px;top:83px;width:30px;text-align:center;transform-origin:50% 50%;transform:scaleX(0.856);">751</div>
<div class="t hm" style="left:1088.00px;top:83px;width:30px;text-align:center;transform-origin:50% 50%;transform:scaleX(0.856);">761</div>
<div class="t hm" style="left:1141.00px;top:83px;width:30px;text-align:center;transform-origin:50% 50%;transform:scaleX(0.844);">371</div>
<div class="t hm" style="left:1190.00px;top:83px;width:30px;text-align:center;transform-origin:50% 50%;transform:scaleX(0.844);">831</div>
<div class="t hm" style="left:1243.00px;top:83px;width:30px;text-align:center;transform-origin:50% 50%;transform:scaleX(0.844);">841</div>
<div class="t hm" style="left:1294.00px;top:83px;width:30px;text-align:center;transform-origin:50% 50%;transform:scaleX(0.844);">861</div>
<div class="t hm" style="left:1336.00px;top:83px;width:42px;text-align:center;transform-origin:50% 50%;transform:scaleX(0.846);">851-S</div>
<div class="t hm" style="left:1384.00px;top:83px;width:42px;text-align:center;transform-origin:50% 50%;transform:scaleX(0.884);">851-H</div>
<div class="t hm" style="left:1438.00px;top:83px;width:30px;text-align:center;transform-origin:50% 50%;transform:scaleX(0.844);">821</div>
<div class="t hh" style="left:150.40px;top:103px;width:32px;text-align:center;">技术</div>
<div class="t hh" style="left:150.36px;top:117px;width:32px;text-align:center;">参数</div>
<div class="t hh" style="left:122.41px;top:127px;width:32px;text-align:center;">应用</div>
<div class="t hh" style="left:121.47px;top:141px;width:32px;text-align:center;">分类</div>
<div class="t hh" style="left:234.76px;top:100px;width:52px;text-align:center;letter-spacing:1.40px;">外壳材料</div>
<div class="t hh" style="left:234.77px;top:116px;width:52px;text-align:center;letter-spacing:1.32px;">使用温度</div>
<div class="t hh" style="left:239.71px;top:131px;width:42px;text-align:center;letter-spacing:1.28px;">液络部</div>
<div class="t hh" style="left:219.05px;top:145px;width:94px;text-align:center;">测量端直径（<span class="la">mm</span>）</div>
<div class="t hvv" style="left:348.04px;top:100px;width:32px;text-align:center;">玻璃</div>
<div class="t hvt" style="left:339.56px;top:117px;width:54px;text-align:center;">-5~100℃</div>
<div class="t hvv" style="left:343.14px;top:132px;width:42px;text-align:center;letter-spacing:1.58px;">陶瓷芯</div>
<div class="t hvd" style="left:348.00px;top:145px;width:34px;text-align:center;transform-origin:50% 50%;transform:scaleX(0.970);">Φ12</div>
<div class="t hvv" style="left:398.79px;top:100px;width:32px;text-align:center;">玻璃</div>
<div class="t hvt" style="left:390.41px;top:117px;width:54px;text-align:center;">-5~100℃</div>
<div class="t hvv" style="left:389.24px;top:132px;width:52px;text-align:center;letter-spacing:1.32px;">移动套管</div>
<div class="t hvd" style="left:399.00px;top:145px;width:34px;text-align:center;transform-origin:50% 50%;transform:scaleX(0.970);">Φ12</div>
<div class="t hvv" style="left:447.99px;top:100px;width:32px;text-align:center;">玻璃</div>
<div class="t hvt" style="left:442.39px;top:117px;width:48px;text-align:center;">-5~80℃</div>
<div class="t hvv" style="left:443.44px;top:132px;width:42px;text-align:center;letter-spacing:1.33px;">开放式</div>
<div class="t hvd" style="left:449.00px;top:145px;width:34px;text-align:center;transform-origin:50% 50%;transform:scaleX(0.970);">Φ12</div>
<div class="t hvv" style="left:497.00px;top:99px;width:34px;text-align:center;transform-origin:50% 50%;transform:scaleX(0.945);"><span class="la">POM</span></div>
<div class="t hvt" style="left:492.05px;top:117px;width:46px;text-align:center;">0~80℃</div>
<div class="t hvv" style="left:493.69px;top:132px;width:42px;text-align:center;letter-spacing:1.33px;">开放式</div>
<div class="t hvd" style="left:499.00px;top:145px;width:34px;text-align:center;transform-origin:50% 50%;transform:scaleX(0.970);">Φ12</div>
<div class="t hvv" style="left:548.24px;top:100px;width:32px;text-align:center;">玻璃</div>
<div class="t hvt" style="left:539.70px;top:117px;width:46px;text-align:center;">0~80℃</div>
<div class="t hvv" style="left:538.84px;top:132px;width:52px;text-align:center;letter-spacing:1.32px;">移动套管</div>
<div class="t hvd" style="left:549.00px;top:145px;width:34px;text-align:center;transform-origin:50% 50%;transform:scaleX(0.970);">Φ12</div>
<div class="t hvv" style="left:600.24px;top:100px;width:32px;text-align:center;">玻璃</div>
<div class="t hvt" style="left:591.20px;top:117px;width:46px;text-align:center;">0~80℃</div>
<div class="t hvv" style="left:590.74px;top:132px;width:52px;text-align:center;letter-spacing:1.32px;">移动套管</div>
<div class="t hvd" style="left:601.00px;top:145px;width:34px;text-align:center;transform-origin:50% 50%;transform:scaleX(0.970);">Φ12</div>
<div class="t hvv" style="left:651.24px;top:100px;width:32px;text-align:center;">玻璃</div>
<div class="t hvt" style="left:641.37px;top:117px;width:54px;text-align:center;">-30~80℃</div>
<div class="t hvv" style="left:646.24px;top:132px;width:42px;text-align:center;letter-spacing:1.58px;">陶瓷芯</div>
<div class="t hvd" style="left:652.00px;top:145px;width:34px;text-align:center;transform-origin:50% 50%;transform:scaleX(0.970);">Φ12</div>
<div class="t hvv" style="left:700.34px;top:100px;width:32px;text-align:center;">玻璃</div>
<div class="t hvt" style="left:691.24px;top:117px;width:52px;text-align:center;">0~100℃</div>
<div class="t hvv" style="left:695.34px;top:132px;width:42px;text-align:center;letter-spacing:1.58px;">陶瓷芯</div>
<div class="t hvd" style="left:703.39px;top:145px;width:28px;text-align:center;">Φ6</div>
<div class="t hvv" style="left:752.24px;top:100px;width:32px;text-align:center;">玻璃</div>
<div class="t hvt" style="left:743.39px;top:117px;width:52px;text-align:center;">0~100℃</div>
<div class="t hvv" style="left:747.24px;top:132px;width:42px;text-align:center;letter-spacing:1.58px;">陶瓷芯</div>
<div class="t hvd" style="left:755.18px;top:145px;width:28px;text-align:center;">Φ3</div>
<div class="t hvv" style="left:827.99px;top:100px;width:32px;text-align:center;">玻璃</div>
<div class="t hvt" style="left:818.99px;top:117px;width:52px;text-align:center;">0~100℃</div>
<div class="t hvv" style="left:823.04px;top:132px;width:42px;text-align:center;letter-spacing:1.58px;">陶瓷芯</div>
<div class="t hvd" style="left:831.18px;top:145px;width:28px;text-align:center;">Φ3</div>
<div class="t hvv" style="left:881.24px;top:100px;width:32px;text-align:center;">玻璃</div>
<div class="t hvt" style="left:872.09px;top:117px;width:52px;text-align:center;">0~100℃</div>
<div class="t hvv" style="left:876.14px;top:132px;width:42px;text-align:center;letter-spacing:1.58px;">陶瓷芯</div>
<div class="t hvd" style="left:884.18px;top:145px;width:28px;text-align:center;">Φ3</div>
<div class="t hvv" style="left:932.74px;top:100px;width:32px;text-align:center;">玻璃</div>
<div class="t hvt" style="left:925.80px;top:117px;width:46px;text-align:center;">0~80℃</div>
<div class="t hvd" style="left:937.64px;top:145px;width:28px;text-align:center;">Φ6</div>
<div class="t hvv" style="left:984.00px;top:99px;width:32px;text-align:center;transform-origin:50% 50%;transform:scaleX(0.865);"><span class="la">PVC</span></div>
<div class="t hvt" style="left:977.70px;top:117px;width:46px;text-align:center;">0~80℃</div>
<div class="t hvd" style="left:989.66px;top:145px;width:28px;text-align:center;">Φ5</div>
<div class="t hvv" style="left:1030.92px;top:100px;width:42px;text-align:center;letter-spacing:1.35px;">钛合金</div>
<div class="t hvt" style="left:1030.30px;top:117px;width:46px;text-align:center;">0~80℃</div>
<div class="t hvd" style="left:1039.36px;top:145px;width:28px;text-align:center;">Φ5</div>
<div class="t hvv" style="left:1082.52px;top:100px;width:42px;text-align:center;letter-spacing:1.35px;">钛合金</div>
<div class="t hvt" style="left:1081.70px;top:117px;width:46px;text-align:center;">0~80℃</div>
<div class="t hvv" style="left:1087.26px;top:146px;width:32px;text-align:center;">刀片</div>
<div class="t hvv" style="left:1139.00px;top:99px;width:34px;text-align:center;transform-origin:50% 50%;transform:scaleX(0.945);"><span class="la">POM</span></div>
<div class="t hvt" style="left:1134.75px;top:117px;width:46px;text-align:center;">0~80℃</div>
<div class="t hvv" style="left:1128.00px;top:130px;width:58px;text-align:center;transform-origin:50% 50%;transform:scaleX(0.891);">多孔<span class="la">PTFE</span></div>
<div class="t hvd" style="left:1142.00px;top:145px;width:34px;text-align:center;transform-origin:50% 50%;transform:scaleX(0.970);">Φ12</div>
<div class="t hvv" style="left:1190.29px;top:100px;width:32px;text-align:center;">玻璃</div>
<div class="t hvt" style="left:1181.59px;top:117px;width:52px;text-align:center;">0~100℃</div>
<div class="t hvv" style="left:1185.64px;top:132px;width:42px;text-align:center;letter-spacing:1.58px;">陶瓷芯</div>
<div class="t hvd" style="left:1191.00px;top:145px;width:34px;text-align:center;transform-origin:50% 50%;transform:scaleX(0.970);">Φ12</div>
<div class="t hvv" style="left:1242.79px;top:100px;width:32px;text-align:center;">玻璃</div>
<div class="t hvt" style="left:1233.76px;top:117px;width:52px;text-align:center;">0~130℃</div>
<div class="t hvv" style="left:1237.84px;top:132px;width:42px;text-align:center;letter-spacing:1.58px;">陶瓷芯</div>
<div class="t hvd" style="left:1243.00px;top:145px;width:34px;text-align:center;transform-origin:50% 50%;transform:scaleX(0.970);">Φ12</div>
<div class="t hvv" style="left:1294.24px;top:100px;width:32px;text-align:center;">玻璃</div>
<div class="t hvt" style="left:1285.06px;top:117px;width:52px;text-align:center;">0~130℃</div>
<div class="t hvv" style="left:1281.00px;top:130px;width:58px;text-align:center;transform-origin:50% 50%;transform:scaleX(0.891);">多孔<span class="la">PTFE</span></div>
<div class="t hvd" style="left:1295.00px;top:145px;width:34px;text-align:center;transform-origin:50% 50%;transform:scaleX(0.970);">Φ12</div>
<div class="t hvv" style="left:1342.24px;top:100px;width:32px;text-align:center;">玻璃</div>
<div class="t hvt" style="left:1334.06px;top:117px;width:54px;text-align:center;">-5~100℃</div>
<div class="t hvv" style="left:1337.84px;top:132px;width:42px;text-align:center;letter-spacing:1.58px;">陶瓷芯</div>
<div class="t hvd" style="left:1343.00px;top:145px;width:34px;text-align:center;transform-origin:50% 50%;transform:scaleX(0.970);">Φ12</div>
<div class="t hvv" style="left:1390.24px;top:100px;width:32px;text-align:center;">玻璃</div>
<div class="t hvt" style="left:1381.06px;top:117px;width:52px;text-align:center;">0~130℃</div>
<div class="t hvv" style="left:1385.14px;top:132px;width:42px;text-align:center;letter-spacing:1.58px;">陶瓷芯</div>
<div class="t hvd" style="left:1391.00px;top:145px;width:34px;text-align:center;transform-origin:50% 50%;transform:scaleX(0.970);">Φ12</div>
<div class="t hvv" style="left:1438.24px;top:100px;width:32px;text-align:center;">玻璃</div>
<div class="t hvt" style="left:1429.56px;top:117px;width:54px;text-align:center;">-5~100℃</div>
<div class="t hvv" style="left:1433.14px;top:132px;width:42px;text-align:center;letter-spacing:1.58px;">陶瓷芯</div>
<div class="t hvd" style="left:1439.00px;top:145px;width:34px;text-align:center;transform-origin:50% 50%;transform:scaleX(0.970);">Φ12</div>
<div class="t hvv" style="left:931.00px;top:130px;width:80px;text-align:center;transform-origin:50% 50%;transform:scaleX(1.045);">陶瓷芯+开放式</div>
<div class="t hvv" style="left:1037.00px;top:130px;width:80px;text-align:center;transform-origin:50% 50%;transform:scaleX(1.042);">陶瓷芯+开放式</div>
<div class="t cat" style="left:129.99px;top:203px;width:44px;text-align:center;">水溶液</div>
<div class="t cat" style="left:132.57px;top:358px;width:38px;text-align:center;">制药/</div>
<div class="t cat" style="left:123.97px;top:373px;width:56px;text-align:center;">生物样品</div>
<div class="t cat" style="left:121.85px;top:511px;width:60px;text-align:center;">化学试剂/</div>
<div class="t cat" style="left:136.33px;top:528px;width:32px;text-align:center;">溶剂</div>
<div class="t cat" style="left:136.45px;top:603px;width:32px;text-align:center;">食品</div>
<div class="t cat" style="left:132.96px;top:688px;width:38px;text-align:center;">饮料/</div>
<div class="t cat" style="left:130.20px;top:705px;width:44px;text-align:center;">调味品</div>
<div class="t cat" style="left:124.45px;top:768px;width:56px;text-align:center;">粘性样品</div>
<div class="t cat" style="left:122.02px;top:832px;width:60px;text-align:center;">涂料/染料</div>
<div class="t cat" style="left:135.09px;top:891px;width:34px;text-align:center;">土壤</div>
<div class="t cat" style="left:123.57px;top:948px;width:56px;text-align:center;">表面测量</div>
<div class="t lab" style="left:214.92px;top:162px;width:90px;text-align:center;">去离子水和超纯水</div>
<div class="t lab" style="left:206.60px;top:178px;width:108px;text-align:center;">纯水/制药用水/蒸馏水</div>
<div class="t lab" style="left:222.70px;top:194px;width:74px;text-align:center;">自来水/饮用水</div>
<div class="t lab" style="left:228.55px;top:210px;width:64px;text-align:center;">地表水/酸雨</div>
<div class="t lab" style="left:244.45px;top:227px;width:32px;text-align:center;">废水</div>
<div class="t lab" style="left:223.02px;top:243px;width:74px;text-align:center;">海水/高盐溶液</div>
<div class="t lab" style="left:235.70px;top:259px;width:50px;text-align:center;">高温样品</div>
<div class="t lab" style="left:236.10px;top:275px;width:50px;text-align:center;">低温样品</div>
<div class="t lab" style="left:225.60px;top:290px;width:70px;text-align:center;">含蛋白质样品</div>
<div class="t lab" style="left:227.38px;top:307px;width:66px;text-align:center;"><span class="la">TRIS</span>缓冲液</div>
<div class="t lab" style="left:239.58px;top:324px;width:42px;text-align:center;">悬浮液</div>
<div class="t lab" style="left:229.91px;top:340px;width:62px;text-align:center;">琼脂培养基</div>
<div class="t lab" style="left:211.58px;top:356px;width:98px;text-align:center;">微孔板/药瓶/培养皿</div>
<div class="t lab" style="left:238.60px;top:372px;width:44px;text-align:center;"><span class="la">NMR</span>管</div>
<div class="t lab" style="left:245.69px;top:388px;width:30px;text-align:center;">试管</div>
<div class="t lab" style="left:229.46px;top:405px;width:62px;text-align:center;">血清和胃液</div>
<div class="t lab" style="left:231.02px;top:420px;width:60px;text-align:center;">微生物样品</div>
<div class="t lab" style="left:239.54px;top:437px;width:42px;text-align:center;">消毒液</div>
<div class="t lab" style="left:239.62px;top:453px;width:42px;text-align:center;">酶溶液</div>
<div class="t lab" style="left:234.59px;top:471px;width:52px;text-align:center;">淀粉溶液</div>
<div class="t lab" style="left:213.59px;top:485px;width:94px;text-align:center;">腐蚀性酸碱/电镀液</div>
<div class="t lab" style="left:244.53px;top:501px;width:32px;text-align:center;">强碱</div>
<div class="t lab" style="left:230.31px;top:517px;width:60px;text-align:center;">氢氟酸溶液</div>
<div class="t lab" style="left:235.27px;top:534px;width:50px;text-align:center;">有机溶剂</div>
<div class="t lab" style="left:230.27px;top:549px;width:60px;text-align:center;">表面活性剂</div>
<div class="t lab" style="left:229.73px;top:566px;width:62px;text-align:center;">水果和蔬菜</div>
<div class="t lab" style="left:226.62px;top:583px;width:68px;text-align:center;">肉类/鱼/冻肉</div>
<div class="t lab" style="left:228.69px;top:600px;width:64px;text-align:center;">面团/面制品</div>
<div class="t lab" style="left:234.06px;top:616px;width:54px;text-align:center;">奶酪/黄油</div>
<div class="t lab" style="left:216.70px;top:633px;width:88px;text-align:center;">酸奶/冰淇淋/奶油</div>
<div class="t lab" style="left:221.49px;top:648px;width:78px;text-align:center;">果酱/蜂蜜/糖浆</div>
<div class="t lab" style="left:239.52px;top:664px;width:42px;text-align:center;">软饮料</div>
<div class="t lab" style="left:244.59px;top:680px;width:32px;text-align:center;">果汁</div>
<div class="t lab" style="left:228.77px;top:696px;width:64px;text-align:center;">啤酒/葡萄酒</div>
<div class="t lab" style="left:233.64px;top:712px;width:54px;text-align:center;">牛奶/豆浆</div>
<div class="t lab" style="left:223.89px;top:728px;width:74px;text-align:center;">番茄酱/蛋黄酱</div>
<div class="t lab" style="left:199.55px;top:744px;width:122px;text-align:center;">凝胶/皂液/洗发水/染发剂</div>
<div class="t lab" style="left:225.61px;top:759px;width:70px;text-align:center;">膏霜类化妆品</div>
<div class="t lab" style="left:244.83px;top:777px;width:32px;text-align:center;">树脂</div>
<div class="t lab" style="left:240.91px;top:792px;width:40px;text-align:center;">护肤品</div>
<div class="t lab" style="left:234.54px;top:809px;width:52px;text-align:center;">水性涂料</div>
<div class="t lab" style="left:215.51px;top:826px;width:90px;text-align:center;">油性样品和乳浊液</div>
<div class="t lab" style="left:228.28px;top:842px;width:64px;text-align:center;">染色剂/染料</div>
<div class="t lab" style="left:228.71px;top:858px;width:64px;text-align:center;">清漆/粘胶剂</div>
<div class="t lab" style="left:229.40px;top:874px;width:62px;text-align:center;">悬浮液测试</div>
<div class="t lab" style="left:224.57px;top:890px;width:72px;text-align:center;">细泥糊状测试</div>
<div class="t lab" style="left:224.81px;top:906px;width:70px;text-align:center;">直接插入测试</div>
<div class="t lab" style="left:234.11px;top:922px;width:54px;text-align:center;">皮肤/皮革</div>
<div class="t lab" style="left:233.91px;top:938px;width:54px;text-align:center;">纸类/布类</div>
<div class="t lab" style="left:234.59px;top:955px;width:52px;text-align:center;">琼脂凝胶</div>
<div class="t lab" style="left:245.94px;top:971px;width:30px;text-align:center;">液滴</div>
<div class="t note" style="left:119.71px;top:997px;">说明：</div>
<div class="t cn" style="left:153.00px;top:997px;transform-origin:0 50%;transform:scaleX(0.930);">①</div>
<div class="t note" style="left:168.34px;top:997px;letter-spacing:0.17px;">本指南中例举的电极接口均为<span class="ln">BNC</span>，这些型号的电极均可做成<span class="ln">S7</span>接口，关于电极接口详见第<span class="ln">28</span>页<span class="ql">“</span>电极接口和电缆<span class="qr">”</span>。</div>
<div class="t cn" style="left:153.00px;top:1015px;transform-origin:0 50%;transform:scaleX(0.930);">②</div>
<div class="t note" style="left:168.69px;top:1014px;letter-spacing:0.32px;"><span class="ln">LabSen</span><span class="r">®</span>电极标配温度探头<span class="ln">NTC30kΩ</span>，可按需求加工<span class="ln">Pt100</span>、<span class="ln">Pt1000</span>铂电阻，或其它规格的热敏电阻。</div>
<div class="t note" style="left:168.28px;top:1027px;letter-spacing:0.14px;"><span class="ln">LabSen</span><span class="r">®</span>电极标配温度探头的接头是<span class="ln">RCA</span>，可按用户需求加工其它规格的接头。</div>
<div class="t pg" style="left:29.00px;top:1026px;width:36px;text-align:center;transform-origin:50% 50%;transform:scaleX(1.073);">29</div>
<div class="t pg" style="left:1535.00px;top:1026px;width:36px;text-align:center;transform-origin:50% 50%;transform:scaleX(1.060);">30</div>
<div class="t logoS" style="left:78.00px;top:1054px;transform-origin:0 50%;transform:scaleX(1.069);">S</div>
<div class="t logo" style="left:93.00px;top:1058px;transform-origin:0 50%;transform:scaleX(1.560);">ANXIN</div>
<div class="t logoS" style="left:1424.00px;top:1054px;transform-origin:0 50%;transform:scaleX(1.069);">S</div>
<div class="t logo" style="left:1439.00px;top:1058px;transform-origin:0 50%;transform:scaleX(1.560);">ANXIN</div>
<div class="t slogan" style="left:426.27px;top:1058px;letter-spacing:1.78px;">电化学仪表专家——精益求精，持之以恒</div>
<div class="t foot" style="left:861.36px;top:1057px;">服务热线：</div>
<div class="t foot" style="left:938.00px;top:1057px;">021-63362480</div>
<div class="t foot" style="left:1051.69px;top:1057px;">网站：</div>
<div class="t foot" style="left:1100.00px;top:1057px;transform-origin:0 50%;transform:scaleX(1.026);">www.shsan-xin.com</div>
</body></html>
